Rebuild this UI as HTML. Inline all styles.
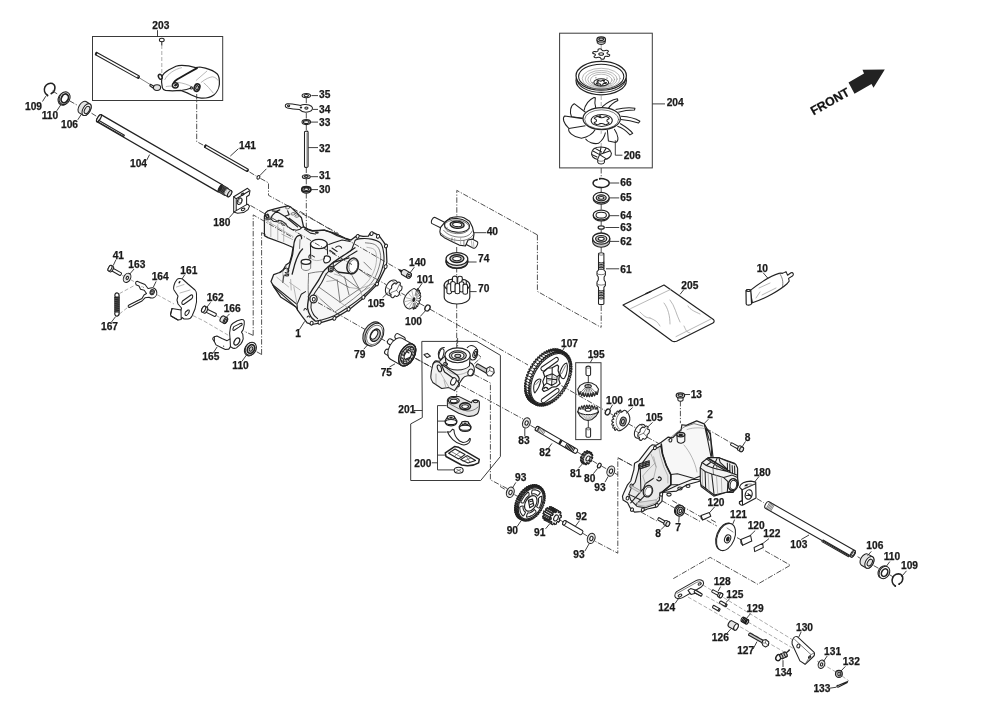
<!DOCTYPE html>
<html><head><meta charset="utf-8"><title>Transmission exploded view</title>
<style>
html,body{margin:0;padding:0;background:#fff;}
body{width:1000px;height:707px;overflow:hidden;font-family:"Liberation Sans",sans-serif;}
svg{display:block;opacity:0.999;will-change:transform;}
svg text{font-family:"Liberation Sans",sans-serif;font-weight:bold;font-size:10.2px;fill:#1a1a1a;stroke:#1a1a1a;stroke-width:0.25px;}
.s{stroke:#222;stroke-width:1.05;fill:none;stroke-linecap:round;stroke-linejoin:round;}
.sf{stroke:#222;stroke-width:1.05;fill:#fff;stroke-linejoin:round;}
.sg{stroke:#222;stroke-width:1.05;fill:#e4e4e4;stroke-linejoin:round;}
.sd{stroke:#222;stroke-width:1.05;fill:#c8c8c8;stroke-linejoin:round;}
.t{stroke:#4a4a4a;stroke-width:0.7;fill:none;stroke-linecap:round;}
.tl{stroke:#9a9a9a;stroke-width:0.7;fill:none;stroke-linecap:round;}
.ld{stroke:#2a2a2a;stroke-width:0.9;fill:none;}
.dd{stroke:#333;stroke-width:0.85;fill:none;stroke-dasharray:5.5 1.6 1.2 1.6;}
.dl{stroke:#888;stroke-width:0.7;fill:none;stroke-dasharray:4 2;}
.bx{stroke:#3a3a3a;stroke-width:1.0;fill:none;}
.k{fill:#222;stroke:none;}
</style></head>
<body>
<svg width="1000" height="707" viewBox="0 0 1000 707">
<rect x="0" y="0" width="1000" height="707" fill="#ffffff"/>
<!-- 00_labels.py -->
<text x="152.3" y="28.7">203</text>
<text x="25" y="110">109</text>
<text x="41.7" y="118.7">110</text>
<text x="61" y="127.7">106</text>
<text x="130" y="166.7">104</text>
<text x="239" y="149">141</text>
<text x="266.7" y="167.3">142</text>
<text x="213.3" y="226">180</text>
<text x="319" y="98.3">35</text>
<text x="319" y="112.7">34</text>
<text x="319" y="126">33</text>
<text x="319" y="151.7">32</text>
<text x="319" y="179.3">31</text>
<text x="319" y="193.3">30</text>
<text x="112.7" y="259.3">41</text>
<text x="128.3" y="268.3">163</text>
<text x="151.7" y="280">164</text>
<text x="180.3" y="273.7">161</text>
<text x="206.7" y="300.7">162</text>
<text x="223.7" y="312">166</text>
<text x="101" y="330">167</text>
<text x="202.3" y="359.7">165</text>
<text x="232.3" y="369">110</text>
<text x="295.3" y="337">1</text>
<text x="409" y="266.3">140</text>
<text x="416.7" y="283.3">101</text>
<text x="367.7" y="306.7">105</text>
<text x="405" y="324.7">100</text>
<text x="486.7" y="234.7">40</text>
<text x="478" y="262.3">74</text>
<text x="478" y="292">70</text>
<text x="354" y="358.3">79</text>
<text x="380.7" y="376.3">75</text>
<text x="398.3" y="413.3">201</text>
<text x="414.3" y="467">200</text>
<text x="561" y="346.7">107</text>
<text x="587.7" y="357.7">195</text>
<text x="606" y="404.3">100</text>
<text x="627.7" y="405.7">101</text>
<text x="645.7" y="420.7">105</text>
<text x="690.7" y="397.7">13</text>
<text x="707.3" y="418.3">2</text>
<text x="518.3" y="444.3">83</text>
<text x="539.3" y="456">82</text>
<text x="570" y="476.7">81</text>
<text x="584" y="482">80</text>
<text x="594.3" y="491">93</text>
<text x="515" y="481.3">93</text>
<text x="506.7" y="534.3">90</text>
<text x="534" y="535.7">91</text>
<text x="575.7" y="519.7">92</text>
<text x="573.3" y="557.7">93</text>
<text x="707.5" y="506.3">120</text>
<text x="655.3" y="537">8</text>
<text x="675.3" y="531">7</text>
<text x="666.7" y="106.3">204</text>
<text x="623.7" y="159.3">206</text>
<text x="620.3" y="186.3">66</text>
<text x="620.3" y="201.3">65</text>
<text x="620.3" y="219.3">64</text>
<text x="620.3" y="230.7">63</text>
<text x="620.3" y="244.7">62</text>
<text x="620.3" y="272.7">61</text>
<text x="681.3" y="288.7">205</text>
<text x="756.7" y="272">10</text>
<text x="744.7" y="441">8</text>
<text x="753.7" y="476">180</text>
<text x="730" y="518.3">121</text>
<text x="747.7" y="529">120</text>
<text x="763.3" y="537.3">122</text>
<text x="790.3" y="547.7">103</text>
<text x="866.3" y="549">106</text>
<text x="883.7" y="560">110</text>
<text x="901" y="569">109</text>
<text x="713.7" y="585.3">128</text>
<text x="726.3" y="597.8">125</text>
<text x="658.2" y="611">124</text>
<text x="746.6" y="612">129</text>
<text x="711.8" y="641.1">126</text>
<text x="737.2" y="654.1">127</text>
<text x="796" y="631.3">130</text>
<text x="824.1" y="655.2">131</text>
<text x="842.8" y="665.1">132</text>
<text x="775" y="675.5">134</text>
<text x="813.4" y="691.6">133</text>
<!-- 01_topleft.py -->
<rect class="bx" x="92.5" y="36.5" width="130.2" height="64" />
<line class="ld" x1="157.5" y1="30.2" x2="157.5" y2="36.5"/>
<ellipse class="sf" cx="161.8" cy="40" rx="2.4" ry="1.7" />
<line class="s" x1="161.8" y1="41.7" x2="161.8" y2="45"/>
<line class="dl" x1="161.8" y1="45" x2="161.8" y2="73"/>
<path class="sf" d="M95.54 54.78 L137.94 78.38 A0.54 1.35 29.1 0 0 139.26 76.02 L96.86 52.42 A0.54 1.35 29.1 0 0 95.54 54.78 Z" /><ellipse class="sf" cx="96.2" cy="53.6" rx="0.54" ry="1.35" transform="rotate(29.1 96.2 53.6)" />
<path class="k" d="M137.8 76 L139.8 77.2 L138.8 78.8 L137 77.8 Z" />
<line class="t" x1="139.5" y1="78" x2="151" y2="85"/>
<ellipse class="sg" cx="157" cy="87.6" rx="3.6" ry="2.9" />
<path class="sf" d="M150.5 84.2 L153.8 86.2 L153 88 L149.8 85.8 Z" />
<path class="sf" d="M 162 76.45 C 162.7 74.7 166.2 71.55 169 69.8 L 175.99 66.3 C 178.09 65.46 185.09 65.46 188.59 65.95 L 195.59 67.56 L 199.79 67 L 205.38 68.05 C 208.88 68.96 215.18 71.9 217.28 74 C 219.03 75.75 219.52 80.99 219.38 84.49 C 219.03 87.99 216.58 92.89 213.78 94.99 C 210.98 97.09 205.38 98.35 201.19 98.14 C 198.39 97.79 194.19 96.39 191.39 94.99 L 187.19 92.89 L 180.89 90.44 L 172.49 90.79 L 165.5 90.44 C 163.75 90.09 162.7 89.04 162.35 87.64 C 161.65 85.19 161.44 79.59 162 76.45 Z" style="stroke-width:1.2"/>
<path class="tl" d="M 164.8 79.59 C 167.6 74 174.59 69.1 181.59 67.7 M 196.29 80.29 L 206.78 71.2 M 201.19 82.39 C 205.38 78.89 209.58 77.14 212.38 76.79 C 215.18 77.14 217.28 78.89 217.98 80.29 M 203.99 83.09 C 206.78 85.19 210.28 89.39 213.08 92.89 M 166.2 86.59 C 168.3 86.03 170.4 86.03 171.79 86.24 M 178.09 82.39 C 182.99 83.09 187.89 84.49 191.39 86.59" />
<path class="s" d="M 196.99 68.05 L 186.49 74 L 177.39 79.24 C 175.64 80.43 174.59 81.34 173.89 82.53" style="stroke-width:1.9;stroke:#1a1a1a"/>
<path class="s" d="M 180.89 90.44 C 183.69 90.09 188.59 89.04 191.39 87.99" />
<ellipse class="sf" cx="175.29" cy="85.33" rx="2.9" ry="2.7" style="stroke-width:1.5"/>
<ellipse class="k" cx="175.59" cy="85.13" rx="1.6" ry="1.2" transform="rotate(-20 175.59 85.13)" />
<ellipse class="sf" cx="196.99" cy="87.64" rx="2.7" ry="3.8" transform="rotate(20 196.99 87.64)" style="stroke-width:1.7"/>
<ellipse class="sd" cx="197.09" cy="87.74" rx="1.3" ry="2.2" transform="rotate(20 197.09 87.74)" />
<circle class="sf" cx="191.39" cy="87.99" r="1.1" />
<ellipse class="sf" cx="160.25" cy="76.79" rx="1.7" ry="2.5" transform="rotate(-25 160.25 76.79)" style="stroke-width:1.5"/>
<path class="dd" d="M196.7 94 L196.7 141.6 L204.5 145.8"/>
<path class="s" d="M47.4 95.3 C44.6 93.6 43.6 90 45 86.8 C46.4 83.8 50 82.6 52.6 83.6 C55 84.8 55.2 88 54.4 90.4 C53.8 92 52.8 92.8 51.6 93.2" style="stroke-width:1.6"/>
<circle class="k" cx="47.5" cy="95.5" r="0.9" />
<circle class="k" cx="51.3" cy="93.6" r="0.9" />
<line class="ld" x1="42.5" y1="101.5" x2="45.8" y2="96.2"/>
<ellipse class="sg" cx="63.6" cy="98.8" rx="5.2" ry="6.6" transform="rotate(28 63.6 98.8)" />
<ellipse class="sf" cx="64.6" cy="98.2" rx="5.2" ry="6.6" transform="rotate(28 64.6 98.2)" />
<ellipse class="s" cx="64.8" cy="98.4" rx="3.4" ry="4.6" transform="rotate(28 64.8 98.4)" style="stroke-width:1.8"/>
<line class="ld" x1="56.8" y1="110.8" x2="60.8" y2="104.8"/>
<path class="sg" d="M90 103.94 L86 101.54 A3.63 6.6 -149.04 0 0 79.2 112.86 L83.2 115.26 A3.63 6.6 -149.04 0 0 90 103.94 Z" /><ellipse class="sf" cx="86.6" cy="109.6" rx="3.63" ry="6.6" transform="rotate(-149.04 86.6 109.6)" />
<ellipse class="sg" cx="87" cy="110" rx="2.3" ry="4" transform="rotate(28 87 110)" />
<line class="ld" x1="77.8" y1="119.8" x2="81.2" y2="114.5"/>
<line class="dd" x1="52.5" y1="91" x2="58.5" y2="94.6"/>
<line class="dd" x1="69.5" y1="100.8" x2="78" y2="105.6"/>
<line class="dd" x1="91.5" y1="113.2" x2="97" y2="116.6"/>
<path class="sf" style="stroke-width:1.3" d="M222.25 184.75 L101.05 114.65 A1.43 4.1 -149.96 0 0 96.95 121.75 L218.15 191.85 A1.43 4.1 -149.96 0 0 222.25 184.75 Z" /><ellipse class="sf" style="stroke-width:1.3" cx="99" cy="118.2" rx="1.43" ry="4.1" transform="rotate(-149.96 99 118.2)" />
<path class="s" d="M97.4 121.4 L123.6 136.4"/>
<path class="s" d="M98.6 120.2 L124.4 135.2 L123.6 136.4"/>
<path class="sd" style="fill:#262626" d="M218.47 191.79 L224.07 194.99 A1.56 3.9 29.74 0 0 227.93 188.21 L222.33 185.01 A1.56 3.9 29.74 0 0 218.47 191.79 Z" />
<path class="sg" d="M224.24 194.62 L227.84 196.72 A1.57 3.5 30.26 0 0 231.36 190.68 L227.76 188.58 A1.57 3.5 30.26 0 0 224.24 194.62 Z" /><ellipse class="sg" cx="229.6" cy="193.7" rx="1.57" ry="3.5" transform="rotate(30.26 229.6 193.7)" />
<path class="s" d="M222.9 185.51 A1.4 3.8 30 0 1 219.1 192.09" style="stroke-width:0.4;stroke:#888"/>
<path class="s" d="M224.2 186.26 A1.4 3.8 30 0 1 220.4 192.84" style="stroke-width:0.4;stroke:#888"/>
<path class="s" d="M225.5 187.01 A1.4 3.8 30 0 1 221.7 193.59" style="stroke-width:0.4;stroke:#888"/>
<path class="s" d="M226.8 187.76 A1.4 3.8 30 0 1 223 194.34" style="stroke-width:0.4;stroke:#888"/>
<line class="ld" x1="146.6" y1="160.4" x2="149.6" y2="154.6"/>
<path class="sf" d="M204.56 147.33 L246.96 171.53 A0.52 1.3 29.72 0 0 248.24 169.27 L205.84 145.07 A0.52 1.3 29.72 0 0 204.56 147.33 Z" /><ellipse class="sf" cx="205.2" cy="146.2" rx="0.52" ry="1.3" transform="rotate(29.72 205.2 146.2)" />
<path class="k" d="M247 169.2 L248.8 170.4 L247.8 172 L246.2 171 Z" />
<line class="ld" x1="238.4" y1="148.7" x2="230.3" y2="156.1"/>
<ellipse class="sf" cx="258.4" cy="177.4" rx="1.3" ry="1.9" transform="rotate(30 258.4 177.4)" />
<line class="ld" x1="266.4" y1="168.8" x2="259.6" y2="175.8"/>
<path class="dd" d="M249.5 172 L256.5 176.2"/>
<path class="dd" d="M260.4 178.4 L268.5 182.8 L268.5 195.3 L338.5 233.5"/>
<path class="sf" d="M233.7 196.7 L247.5 188.3 L250 190.6 L249.2 195 L246.6 196.8 L246.6 204.6 L248 204.3 L249.5 206.1 L248 209.6 L243.6 212.6 L237.6 213.2 L233.7 212.1 Z" />
<path class="s" d="M233.7 196.7 L236.2 198.8 L249.2 191 M236.2 198.8 L236.2 210.6 L246.6 204.6 M236.2 210.6 L233.7 212.1" />
<ellipse class="s" cx="239.6" cy="201.2" rx="2.2" ry="3.4" transform="rotate(20 239.6 201.2)" />
<ellipse class="t" cx="240.3" cy="200.6" rx="1.6" ry="2.6" transform="rotate(20 240.3 200.6)" />
<ellipse class="s" cx="242.6" cy="194.3" rx="1.5" ry="0.9" transform="rotate(-30 242.6 194.3)" />
<ellipse class="s" cx="243.1" cy="209.4" rx="1.9" ry="1.1" transform="rotate(-20 243.1 209.4)" />
<line class="ld" x1="229.3" y1="217.6" x2="234.6" y2="211.6"/>
<line class="dd" x1="306.3" y1="97.7" x2="306.3" y2="104"/>
<line class="dd" x1="306.3" y1="113" x2="306.3" y2="119.6"/>
<line class="dd" x1="306.3" y1="124.6" x2="306.3" y2="131"/>
<line class="dd" x1="306.3" y1="167.5" x2="306.3" y2="174.6"/>
<line class="dd" x1="306.3" y1="178.8" x2="306.3" y2="186.4"/>
<line class="dd" x1="306.3" y1="193" x2="306.3" y2="262"/>
<ellipse class="sf" cx="306.3" cy="95.6" rx="4.2" ry="2.2" /><ellipse class="sf" cx="306.3" cy="95.6" rx="2.2" ry="1.1" />
<line class="ld" x1="311.4" y1="95.6" x2="318" y2="95.6"/>
<path class="sf" d="M287 103.8 C289.5 103.2 296 104.6 300.4 105.4 C303 104.2 308.6 104.2 311.4 106.2 C313.4 108 312.6 110.6 309.6 111.6 C306 112.6 301.6 111.8 299.6 109.6 C296 109.4 290 108.6 287.4 108 C284.6 107.2 284.6 104.6 287 103.8 Z" />
<ellipse class="s" cx="288.6" cy="105.8" rx="1.1" ry="0.8" />
<ellipse class="s" cx="306.4" cy="108" rx="1.6" ry="1.1" />
<ellipse class="s" cx="301" cy="107.4" rx="0.7" ry="0.5" />
<line class="ld" x1="312.8" y1="109.4" x2="318" y2="109.4"/>
<ellipse class="sf" cx="306.3" cy="122.1" rx="4.3" ry="2.5" /><ellipse class="sf" cx="306.3" cy="122.1" rx="2.9" ry="1.5" />
<line class="ld" x1="311" y1="122.1" x2="318" y2="122.1"/>
<path class="sf" d="M304.5 132 L304.5 166.6 A1.8 0.9 0 0 0 308.1 166.6 L308.1 132 A1.8 0.9 0 0 0 304.5 132 Z" />
<line class="t" x1="307" y1="133" x2="307" y2="166.8"/>
<line class="ld" x1="308.2" y1="147.6" x2="318" y2="147.6"/>
<ellipse class="sd" cx="306.3" cy="176.7" rx="4" ry="2" />
<ellipse class="sf" cx="306.3" cy="176.5" rx="1.8" ry="0.9" />
<line class="ld" x1="310.5" y1="176.7" x2="318" y2="176.7"/>
<ellipse class="sd" cx="306.3" cy="190.2" rx="4.6" ry="3" />
<ellipse class="s" cx="306.3" cy="189.2" rx="4.6" ry="2.6" style="stroke-width:1.6"/>
<ellipse class="sf" cx="306.3" cy="189.2" rx="2.4" ry="1.2" />
<line class="ld" x1="311" y1="189.6" x2="318" y2="189.6"/>
<!-- 02_leftmid.py -->
<path class="sf" d="M110.66 270.31 L119.86 275.51 A0.6 1.5 29.48 0 0 121.34 272.89 L112.14 267.69 A0.6 1.5 29.48 0 0 110.66 270.31 Z" />
<path class="sg" d="M108.48 270.9 L110.08 271.8 A1.55 3.1 29.36 0 0 113.12 266.4 L111.52 265.5 A1.55 3.1 29.36 0 0 108.48 270.9 Z" /><ellipse class="sf" cx="110" cy="268.2" rx="1.55" ry="3.1" transform="rotate(29.36 110 268.2)" />
<line class="ld" x1="116" y1="259.6" x2="113.2" y2="265.6"/>
<ellipse class="sg" cx="127.1" cy="277.8" rx="3.4" ry="4.9" transform="rotate(28 127.1 277.8)" />
<ellipse class="sf" cx="127.3" cy="277.9" rx="1.1" ry="1.6" transform="rotate(28 127.3 277.9)" />
<line class="ld" x1="134.1" y1="269" x2="129.6" y2="274.2"/>
<path class="sf" d="M 148 288.5 L 145 284.5 L 140 282.5 L 137.2 281.3 C 135.5 281.5 135 283.2 136.5 285 L 139 286 L 140.5 289.2 L 144.2 290.2 L 146.5 293.5 L 144 295 L 142 298.5 L 135 302 L 129 305 C 127.5 305.8 128.2 307.8 129.8 307.4 L 136 304 L 142 301 L 145 297.8 L 149 297.2 C 150 297.8 152 298.2 153.5 297.8 C 156 296.8 157.5 294 156.5 291 C 155.5 288.5 153 287.2 150.5 288 C 149.5 288.3 148.6 288.4 148 288.5 Z" />
<ellipse class="s" cx="152.2" cy="292.2" rx="2.1" ry="2.6" transform="rotate(20 152.2 292.2)" />
<ellipse class="sd" cx="152" cy="292.4" rx="1.2" ry="1.6" transform="rotate(20 152 292.4)" />
<circle class="k" cx="142" cy="286.8" r="0.45" />
<circle class="k" cx="143.5" cy="287.2" r="0.45" />
<circle class="k" cx="137.2" cy="300.5" r="0.45" />
<circle class="k" cx="139.5" cy="299.5" r="0.45" />
<circle class="k" cx="130" cy="306.2" r="0.45" />
<line class="ld" x1="156.1" y1="281.4" x2="153.4" y2="287"/>
<path class="s" d="M115.2 297 C114 294 116 292.6 117.6 293 C119 293.6 119.4 295 119 297" style="stroke-width:1.2"/>
<path class="s" d="M115 312 C114 315 116 316.6 117.6 316 C119 315.4 119.6 314 119 312" style="stroke-width:1.2"/>
<rect class="k" x="114.2" y="296.4" width="5.6" height="16" rx="1.2"/>
<line class="s" style="stroke:#777;stroke-width:0.5" x1="114.6" y1="298.8" x2="119.4" y2="298"/>
<line class="s" style="stroke:#777;stroke-width:0.5" x1="114.6" y1="300.7" x2="119.4" y2="299.9"/>
<line class="s" style="stroke:#777;stroke-width:0.5" x1="114.6" y1="302.6" x2="119.4" y2="301.8"/>
<line class="s" style="stroke:#777;stroke-width:0.5" x1="114.6" y1="304.5" x2="119.4" y2="303.7"/>
<line class="s" style="stroke:#777;stroke-width:0.5" x1="114.6" y1="306.4" x2="119.4" y2="305.6"/>
<line class="s" style="stroke:#777;stroke-width:0.5" x1="114.6" y1="308.3" x2="119.4" y2="307.5"/>
<line class="s" style="stroke:#777;stroke-width:0.5" x1="114.6" y1="310.2" x2="119.4" y2="309.4"/>
<line class="s" style="stroke:#777;stroke-width:0.5" x1="114.6" y1="312.1" x2="119.4" y2="311.3"/>
<line class="ld" x1="111.2" y1="322.4" x2="115.6" y2="316.6"/>
<line class="dl" x1="119.4" y1="293.6" x2="136" y2="284.6"/>
<line class="dl" x1="119.4" y1="314" x2="129" y2="306.4"/>
<line class="dl" x1="122" y1="275.4" x2="124" y2="276.4"/>
<line class="dl" x1="130.4" y1="279.6" x2="136" y2="282.6"/>
<line class="dl" x1="157" y1="294.6" x2="174" y2="304"/>
<line class="dl" x1="193" y1="315.6" x2="204" y2="321"/>
<line class="dl" x1="204" y1="321" x2="232" y2="337.4"/>
<line class="dl" x1="216" y1="315.4" x2="220.6" y2="318"/>
<path class="sf" d="M 177 279.5 C 178 278.2 181.5 278 183 279.5 L 188 284 L 195 290 C 196 291 196.5 292.5 196.5 294 L 196.5 302 L 195 309 L 192 316 C 191 318 189.5 319 188 319 L 184 319 L 182 317.5 L 181 319.5 L 178 320 L 171 316 L 170.5 314.5 L 172 308.5 L 181 310 L 181.5 308 L 178 304 L 177 300 L 178 296 L 174 290 C 173.2 288.5 173.4 286.5 175 282.5 Z" />
<path class="s" d="M 182.5 301 L 191 295 C 192.5 294.5 193.5 296 192 298.5 L 183.5 304.5 C 182 305 181.2 302.5 182.5 301 Z M 185.5 312 L 188 310 C 189.2 309.6 190 310.5 188.5 313.5 L 186.5 315.5 C 185 316 184.5 313.5 185.5 312 Z" />
<path class="s" d="M 172 308.5 L 170.5 314.5 M 181 310 L 181.2 318.5 M 171 316 L 178 320" />
<path class="tl" d="M 176.5 287 L 184 284.5 M 180 293 L 190 290" />
<ellipse class="k" cx="179.5" cy="282.2" rx="0.8" ry="1.4" transform="rotate(30 179.5 282.2)" />
<line class="ld" x1="184.7" y1="274.8" x2="182" y2="279"/>
<path class="sf" d="M204.9 311.64 L214.7 316.44 A0.64 1.6 26.1 0 0 216.1 313.56 L206.3 308.76 A0.64 1.6 26.1 0 0 204.9 311.64 Z" />
<path class="sg" d="M202.12 312.15 L204.12 313.15 A1.65 3.3 26.57 0 0 207.08 307.25 L205.08 306.25 A1.65 3.3 26.57 0 0 202.12 312.15 Z" /><ellipse class="sf" cx="203.6" cy="309.2" rx="1.65" ry="3.3" transform="rotate(26.57 203.6 309.2)" />
<line class="ld" x1="210.5" y1="302.4" x2="206.8" y2="307.4"/>
<path class="sg" d="M226.97 317.81 L223.77 316.01 A1.76 3.2 -150.64 0 0 220.63 321.59 L223.83 323.39 A1.76 3.2 -150.64 0 0 226.97 317.81 Z" /><ellipse class="sf" cx="225.4" cy="320.6" rx="1.76" ry="3.2" transform="rotate(-150.64 225.4 320.6)" />
<ellipse class="sd" cx="225.6" cy="320.7" rx="1" ry="1.8" transform="rotate(28 225.6 320.7)" />
<line class="ld" x1="229.5" y1="313.9" x2="226.4" y2="317.2"/>
<path class="sf" d="M 230.47 327.07 C 230.89 324.95 232.16 323.85 233.01 323.25 L 237.26 320.7 L 241.5 319.43 C 243.2 319.26 244.05 319.86 244.22 321.13 L 244.22 324.52 L 243.2 329.62 L 241.5 332.16 L 242.78 334.29 L 243.2 338.96 C 242.78 341.08 241.67 342.78 240.65 344.05 L 236.41 347.87 C 235.14 348.46 233.86 348.46 233.01 348.29 L 230.47 346.6 L 228.77 349.14 L 225.37 349.57 L 221.13 347.44 L 216.04 344.9 L 214.34 341.5 L 212.64 338.96 C 212.81 337.68 213.49 337.09 214.34 336.83 L 216.88 335.98 L 221.98 338.53 L 227.07 340.65 L 230.04 338.96 L 229.62 333.01 Z" />
<path class="s" d="M 233.01 328.77 L 233.86 326.65 L 238.96 324.1 L 241.5 323.25 C 242.35 323.51 242.35 324.35 241.93 324.95 L 238.96 327.07 L 233.86 330.47 C 233.01 330.47 232.67 329.62 233.01 328.77 Z" />
<ellipse class="s" cx="236.83" cy="341.5" rx="2.4" ry="3.9" transform="rotate(30 236.83 341.5)" style="stroke-width:1.3"/>
<path class="s" d="M 230.04 338.96 L 230.47 346.6 M 214.34 336.83 L 214.34 341.5" />
<circle class="k" cx="223.68" cy="346.17" r="0.55" />
<line class="ld" x1="213.3" y1="352.8" x2="217.2" y2="346.8"/>
<ellipse class="sg" cx="250" cy="349.4" rx="5.2" ry="6.8" transform="rotate(28 250 349.4)" />
<ellipse class="sf" cx="250.8" cy="348.8" rx="5.2" ry="6.8" transform="rotate(28 250.8 348.8)" />
<ellipse class="s" cx="251" cy="349" rx="3.4" ry="4.6" transform="rotate(28 251 349)" style="stroke-width:1.8"/>
<ellipse class="sd" cx="251" cy="349" rx="1.6" ry="2.4" transform="rotate(28 251 349)" />
<line class="ld" x1="241.9" y1="361.4" x2="246.8" y2="354.6"/>
<path class="dd" d="M253.2 335.4 L244 331.2"/>
<path class="dd" d="M261.6 354.5 L256.4 351.6"/>
<!-- 10_housing1.py -->
<path class="sg" style="fill:#f6f6f6;stroke-width:1.25" d="M264.4 216.3 L265.5 213 L267.9 210.8 L274.8 208.9 L281 207.3 L287.7 205.9 L290.6 206.9 L296 212 L301.5 217.8 L302.5 222 L303.5 226.7 L308 229 L312.4 230.6 L324.3 230.1 L334.2 233.1 L345 238 L351 240 L355 236.9 L358 235.4 L363 236.4 L368.4 236.1 L370 233.4 L372.8 232.4 L378.8 235.4 L383.2 241.3 L386.2 245.8 L386.9 262.1 L385.4 268.1 L377.3 284.4 L363.9 297.8 L349 309.7 L334.2 318.6 L319.3 323.1 L311.9 324.5 L307.1 322.9 L302.3 316.6 L297.6 310.2 L296 307 L280.6 296.9 L274.2 287.4 L271 281.5 L273.7 274.6 L279.5 272.5 L282.7 270.9 L285.9 265.1 L289.6 262.4 L291.6 256 L292.6 250 L293.1 247.5 L283.7 243.5 L267.9 237.6 L264.4 235.6 Z"/>
<path class="s" d="M 264.41 218.76 L 267.87 219.26 L 270.84 218.76 L 273.32 221.24 L 276.29 221.73 L 278.76 220.25 L 281.73 220.94 L 285.69 223.71 L 287.67 226.68 L 291.63 229.16 L 296.58 230.15 L 300.05 229.16 L 301.53 227.67 L 303.51 226.68" />
<path class="s" d="M 276.29 211.34 L 284.7 216.29 L 297.57 226.88 M 289.16 218.27 L 301.53 227.67 M 284.7 216.29 L 289.16 214.8 L 287.67 210.84 M 272.33 210.84 L 276.29 211.34 L 279.75 209.85 M 270.84 218.76 L 272.33 215.3 L 276.29 211.34" style="stroke-width:1.2"/>
<path class="s" d="M 265.89 214.8 C 265.4 216.29 266.39 217.77 267.87 217.97 C 268.86 217.28 268.86 215.3 267.67 214.31" style="stroke-width:1.6"/>
<ellipse class="t" cx="287.67" cy="207.67" rx="2.2" ry="1.2" transform="rotate(-10 287.67 207.67)" />
<ellipse class="t" cx="293.12" cy="213.81" rx="2.2" ry="1.2" transform="rotate(-10 293.12 213.81)" />
<ellipse class="t" cx="297.08" cy="215.99" rx="2.2" ry="1.2" transform="rotate(-10 297.08 215.99)" />
<ellipse class="t" cx="268.37" cy="218.76" rx="2.2" ry="1.2" transform="rotate(-10 268.37 218.76)" />
<ellipse class="t" cx="279.75" cy="221.93" rx="2.2" ry="1.2" transform="rotate(-10 279.75 221.93)" />
<ellipse class="t" cx="283.71" cy="224.21" rx="2.2" ry="1.2" transform="rotate(-10 283.71 224.21)" />
<path class="tl" d="M 277.77 224.7 L 277.77 239.55 M 283.71 227.67 L 283.71 241.53 M 281.73 234.11 L 292.62 239.55 M 270.84 220.74 L 270.84 236.58" />
<path class="tl" d="M 264.9 219.75 L 293.12 236.58" />
<path class="s" d="M 303.51 226.68 L 306.49 229.16 L 312.43 231.14 L 318.37 230.64 L 324.31 230.15 L 330.25 232.13 L 337.18 235.59 L 345 238.56 L 350.05 240.05" style="stroke-width:1.2"/>
<path class="s" d="M 304.5 229.16 L 310.45 233.12 L 315.4 234.11 M 328.76 244.5 L 334.21 242.52 L 342.13 240.05 L 350.05 241.53" />
<ellipse class="k" cx="316.88" cy="232.62" rx="1.9" ry="1.2" />
<path class="s" d="M 310.45 244.5 L 310.74 258.37 M 327.28 244.5 L 327.57 254.41" />
<path class="tl" d="M 310.74 258.37 C 314.41 262.33 324.31 261.34 327.57 254.41" />
<ellipse class="sf" cx="318.86" cy="244.01" rx="8.4" ry="4.6" style="stroke-width:1.4"/>
<path class="s" d="M 297.57 236.09 C 299.55 234.6 302.03 235.59 301.53 238.56 M 298.56 235.59 C 295.59 236.58 294.11 240.54 293.61 246.49 L 292.62 254.41 L 289.65 264.8 L 287.67 272.23 M 302.52 248.96 C 298.56 252.43 296.58 258.37 294.6 264.8 L 292.13 274.21" style="stroke-width:1.3"/>
<path class="t" d="M 300.05 239.55 L 299.55 248.47" />
<ellipse class="sf" cx="305.99" cy="261.83" rx="4.8" ry="2.5" style="stroke-width:1.4"/>
<path class="t" d="M 301.24 262.33 L 301.53 268.27 C 303.51 271.24 308.47 271.24 310.64 268.27 L 310.74 263.32" />
<path class="s" d="M 310.45 254.41 C 308.96 255.4 308.47 256.88 309.26 258.37 M 311.93 255.4 L 314.41 256.88" />
<path class="sf" d="M 324.41 257.87 C 323.42 255.69 328.37 254.7 330.35 257.67 C 331.34 260.64 328.37 263.61 324.6 262.62 C 323.42 261.63 323.61 259.16 324.41 257.87 Z" style="stroke-width:1.3"/>
<path class="t" d="M 308.56 273.51 C 308.56 280.45 307.57 288.37 308.56 296.29 M 308.56 273.51 C 312.52 272.52 318.47 271.53 323.42 271.53" />
<path class="s" d="M355 247.77 C353.53 248.76 349.64 251.4 346.19 253.71 C342.74 256.02 337.28 259.49 334.31 261.63 C331.34 263.78 330.18 264.93 328.37 266.58 C326.55 268.23 325.07 269.22 323.42 271.53 C321.77 273.84 320.28 277.48 318.47 280.45 C316.65 283.42 314.17 286.72 312.52 289.36 C310.87 292 309.2 294.93 308.56 296.29 C307.93 297.64 308.86 295.53 308.7 297.5 C308.54 299.47 307.25 304.92 307.6 308.1 C307.95 311.28 309.55 314.48 310.8 316.6 C312.05 318.72 314.38 320.1 315.1 320.8" style="stroke-width:1.35"/>
<path class="s" d="M357.08 250.94 C355.59 251.86 351.55 254.29 348.17 256.49 C344.79 258.68 339.62 262.01 336.78 264.11 C333.94 266.2 332.9 267.41 331.14 269.06 C329.37 270.71 327.81 271.7 326.19 274.01 C324.57 276.32 323.22 279.95 321.44 282.92 C319.65 285.89 317.15 289.19 315.5 291.83 C313.84 294.47 312.12 297.73 311.53 298.76 C310.95 299.79 312.09 296.46 312 298 C311.91 299.54 310.73 305.23 311 308 C311.27 310.77 312.5 312.83 313.6 314.6 C314.7 316.37 316.93 317.93 317.6 318.6" />
<ellipse class="sf" cx="330.84" cy="269.06" rx="2.5" ry="2.8" style="stroke-width:1.2"/>
<ellipse class="s" cx="331.04" cy="269.26" rx="1.1" ry="1.4" />
<path class="s" d="M 282.82 282.43 L 283.81 275.5 L 288.76 274.01 M 284.8 268.56 C 286.29 267.57 288.27 268.56 288.76 270.54 C 288.76 272.52 286.78 273.51 285.3 272.52 M 279.85 272.52 L 284.8 268.56" style="stroke-width:1.2"/>
<ellipse class="s" cx="286.98" cy="275" rx="1.7" ry="1" />
<path class="s" d="M355.27 240.16 C356.22 239.91 358.25 238.84 360.92 238.67 C363.6 238.5 368.1 238.42 371.32 239.12 C374.54 239.81 378.26 240.97 380.24 242.83 C382.22 244.69 382.66 246.79 383.21 250.26 C383.75 253.73 384.74 258.18 383.51 263.63 C382.27 269.08 379.3 277.5 375.78 282.95 C372.26 288.4 367.11 292.24 362.41 296.32 C357.7 300.41 352.25 304.25 347.55 307.47 C342.84 310.69 338.63 313.53 334.18 315.64 C329.72 317.74 323.9 319.16 320.8 320.1 C317.71 321.04 316.47 321.09 315.6 321.29" style="stroke-width:1.1"/>
<path class="t" d="M365.38 242.83 C366.86 243.08 371.94 243.08 374.29 244.32 C376.65 245.55 378.5 247.29 379.49 250.26 C380.49 253.23 381.23 257.19 380.24 262.15 C379.25 267.1 376.77 274.9 373.55 279.98 C370.33 285.05 365.38 288.65 360.92 292.61 C356.46 296.57 351.14 300.53 346.81 303.75 C342.47 306.97 336.9 310.56 334.92 311.92" />
<path class="tl" d="M366.86 247.29 C368.1 247.66 372.68 247.91 374.29 249.52 C375.9 251.13 376.4 253.85 376.52 256.95 C376.65 260.04 376.28 264.25 375.04 268.09 C373.8 271.93 371.82 276.26 369.09 279.98 C366.37 283.69 360.43 288.65 358.69 290.38" />
<path class="s" d="M 355.27 240.16 L 352.01 248.77 L 350.52 251" />
<ellipse class="sf" cx="311.6" cy="323.2" rx="1.5" ry="1.9" transform="rotate(20 311.6 323.2)" />
<ellipse class="sf" cx="319.6" cy="322.4" rx="1.5" ry="1.9" transform="rotate(20 319.6 322.4)" />
<ellipse class="sf" cx="334.4" cy="318.4" rx="1.5" ry="1.9" transform="rotate(20 334.4 318.4)" />
<ellipse class="sf" cx="348.6" cy="309.2" rx="1.5" ry="1.9" transform="rotate(20 348.6 309.2)" />
<ellipse class="sf" cx="363.4" cy="297.4" rx="1.5" ry="1.9" transform="rotate(20 363.4 297.4)" />
<ellipse class="sf" cx="377" cy="284" rx="1.5" ry="1.9" transform="rotate(20 377 284)" />
<ellipse class="sf" cx="385.6" cy="266.6" rx="1.5" ry="1.9" transform="rotate(20 385.6 266.6)" />
<ellipse class="sf" cx="386" cy="246" rx="1.5" ry="1.9" transform="rotate(20 386 246)" />
<ellipse class="sf" cx="378" cy="236.4" rx="1.5" ry="1.9" transform="rotate(20 378 236.4)" />
<ellipse class="sf" cx="371.6" cy="233.6" rx="1.5" ry="1.9" transform="rotate(20 371.6 233.6)" />
<ellipse class="sf" cx="357.6" cy="236.4" rx="1.5" ry="1.9" transform="rotate(20 357.6 236.4)" />
<path class="s" d="M 333.43 262.44 L 349.03 257.99 M 338.93 272.25 L 352.01 273.74" style="stroke-width:1.3"/>
<path class="s" d="M 333.43 262.44 C 331.95 265.86 334.92 270.32 338.93 272.25" />
<ellipse class="sf" cx="352.7" cy="265.9" rx="5.6" ry="8" transform="rotate(14 352.7 265.9)" style="stroke-width:1.5"/>
<ellipse class="t" cx="353.4" cy="266.1" rx="4.4" ry="6.6" transform="rotate(14 353.4 266.1)" />
<path class="s" d="M 329.72 250.26 L 334.92 253.97 M 331.95 248.03 L 337.15 251.45 M 335.66 247.29 C 337.89 245.06 340.86 245.8 341.6 248.03" />
<path class="t" d="M 325.26 274.03 L 349.03 287.41 M 331.2 268.09 L 359.44 288.89 M 319.32 287.41 L 340.12 302.27 M 340.12 302.27 L 359.44 288.89 M 337.15 279.98 L 340.12 302.27 M 352.01 275.52 L 360.92 291.86 M 344.58 277.01 L 349.03 294.84 M 320.8 299.29 L 334.18 311.18 M 359.44 269.58 L 369.84 277.01 M 363.89 262.15 L 371.32 269.58" />
<path class="tl" d="M 349.03 287.41 L 359.44 288.89 L 362.41 296.32 M 340.12 302.27 L 347.55 307.47 M 334.18 274.03 L 344.58 277.01 M 326.75 281.46 L 337.15 279.98 M 316.34 294.84 L 320.8 299.29 M 359.44 288.89 L 375.78 282.95 M 360.92 291.86 L 369.84 287.41" />
<path class="s" d="M 272.62 284.72 L 297.03 304.36 L 301.28 294.28 L 305.52 291.62 M 297.03 304.36 L 297.56 310.2" />
<path class="s" d="M 274.21 287.38 L 295.97 307.02" />
<path class="tl" d="M 282.7 270.92 L 283.23 281.54 M 285.89 265.08 L 287.48 274.11 L 283.23 275.17 M 289.6 282.6 L 300.22 290.03 M 290.66 279.42 L 291.19 290.03 M 276.86 277.29 L 288.54 286.85 M 293.85 286.85 L 297.03 304.36" />
<ellipse class="sf" cx="313.49" cy="299.06" rx="3.6" ry="3.9" style="stroke-width:1.3"/>
<ellipse class="s" cx="313.79" cy="299.36" rx="1.5" ry="1.8" />
<path class="s" d="M 303.93 310.2 C 304.46 308.08 306.06 308.08 306.59 309.67 M 307.12 317.1 C 307.65 315.51 309.24 315.51 309.56 317.1" />
<line class="ld" x1="299.4" y1="329.6" x2="304.6" y2="321.4"/>
<!-- 11_mid.py -->
<line class="dd" x1="250.5" y1="205.5" x2="263.5" y2="213"/>
<line class="dd" x1="345.6" y1="238.8" x2="397" y2="268.6"/>
<line class="dd" x1="358" y1="268.6" x2="386.5" y2="284.8"/>
<line class="dd" x1="401.4" y1="293.2" x2="405" y2="295.2"/>
<line class="dd" x1="419.6" y1="303.4" x2="425" y2="306.4"/>
<line class="dd" x1="430" y1="309.2" x2="528" y2="365"/>
<line class="dd" x1="318" y1="302.6" x2="365" y2="329.4"/>
<line class="dd" x1="380.4" y1="338.2" x2="388.4" y2="342.8"/>
<line class="dd" x1="416" y1="358.4" x2="437" y2="370.4"/>
<path class="k" d="M397.4 268.6 L402.6 270.2 L404.4 273.6 L400.6 272.6 Z" />
<path class="sg" d="M410.44 272.88 L405.04 269.78 A2.17 2.9 -150.14 0 0 402.16 274.82 L407.56 277.92 A2.17 2.9 -150.14 0 0 410.44 272.88 Z" /><ellipse class="sf" cx="409" cy="275.4" rx="2.17" ry="2.9" transform="rotate(-150.14 409 275.4)" />
<ellipse class="s" cx="409.1" cy="275.5" rx="1.1" ry="1.3" transform="rotate(29.6 409.1 275.5)" />
<line class="ld" x1="414.3" y1="267.2" x2="409.8" y2="273.2"/>
<path class="sf" d="M395.52 291.46 C395.11 292.03 394.63 292.57 394.14 293.03 C393.66 293.49 393.12 293.9 392.59 294.23 C392.07 294.55 391.51 294.81 390.98 294.97 C390.44 295.13 389.9 295.22 389.4 295.21 C388.9 295.21 388.41 295.11 387.97 294.94 C387.54 294.76 387.13 294.49 386.8 294.16 C386.46 293.82 386.16 293.4 385.94 292.93 C385.73 292.47 385.56 291.92 385.48 291.35 C385.39 290.78 385.38 290.14 385.43 289.5 C385.48 288.87 385.61 288.19 385.8 287.53 C385.99 286.88 386.26 286.2 386.57 285.56 C386.88 284.93 387.26 284.3 387.68 283.74 C388.09 283.17 388.57 282.63 389.06 282.17 C389.54 281.71 390.08 281.3 390.61 280.97 C391.13 280.65 391.69 280.39 392.22 280.23 C392.76 280.07 393.3 279.98 393.8 279.99 C394.3 279.99 394.79 280.09 395.23 280.26 C395.66 280.44 396.07 280.71 396.4 281.04 C396.74 281.38 397.04 281.8 397.26 282.27 C397.47 282.73 397.64 283.28 397.72 283.85 C397.81 284.42 397.82 285.06 397.77 285.7 C397.72 286.33 397.59 287.01 397.4 287.67 C397.21 288.32 396.94 289 396.63 289.64 C396.32 290.27 395.94 290.9 395.52 291.46 Z" />
<path class="sf" d="M399.52 293.76 C399.29 294.43 398.73 295.09 398.25 295.55 C397.76 296.01 397.12 296.48 396.59 296.53 C396.07 296.57 395.63 295.63 395.1 295.8 C394.57 295.96 393.94 297.22 393.4 297.51 C392.85 297.8 392.26 297.7 391.83 297.53 C391.4 297.35 390.92 297.02 390.8 296.46 C390.67 295.9 391.3 294.64 391.08 294.17 C390.86 293.7 389.79 294.03 389.48 293.65 C389.16 293.27 389.13 292.52 389.18 291.88 C389.24 291.24 389.4 290.43 389.8 289.83 C390.2 289.23 391.26 288.9 391.58 288.27 C391.89 287.64 391.45 286.71 391.68 286.04 C391.91 285.37 392.47 284.71 392.95 284.25 C393.44 283.79 394.08 283.32 394.61 283.27 C395.13 283.23 395.57 284.17 396.1 284 C396.63 283.84 397.26 282.58 397.8 282.29 C398.35 282 398.94 282.1 399.37 282.27 C399.8 282.45 400.28 282.78 400.4 283.34 C400.53 283.9 399.9 285.16 400.12 285.63 C400.34 286.1 401.41 285.77 401.72 286.15 C402.04 286.53 402.07 287.28 402.02 287.92 C401.96 288.56 401.8 289.37 401.4 289.97 C401 290.57 399.94 290.9 399.62 291.53 C399.31 292.16 399.75 293.09 399.52 293.76 Z" />
<path class="t" d="M392 281 L396 283 M386.6 287.6 L390.4 289.8 M389 295.4 L392.6 297.6 M396.6 290.4 L399.6 284 M396.6 290.4 L400.6 295.4 M396.6 290.4 L391 292.6" />
<line class="ld" x1="382.6" y1="297.7" x2="387.8" y2="292.8"/>
<path class="sf" d="M413.96 288.47 C413 288.61 410.56 290.42 409.43 291.41 C408.3 292.41 406.22 294.58 405.47 295.94 C404.71 297.3 403.77 300.17 403.77 301.6 C403.77 303.03 404.71 305.7 405.47 306.69 C406.22 307.69 408.42 308.99 409.43 309.07 C410.44 309.15 412.52 307.26 413.03 307.27 C413.54 307.27 413.1 308.88 413.24 309.11 C413.37 309.34 413.86 309.26 414.04 308.98 C414.23 308.7 414.53 307.28 414.62 307.01 C414.7 306.75 414.6 306.79 414.69 306.98 C414.77 307.17 415.08 308.32 415.27 308.44 C415.45 308.55 415.94 308.2 416.08 307.85 C416.21 307.5 416.24 306.1 416.27 305.82 C416.31 305.54 416.21 305.64 416.34 305.76 C416.46 305.87 417.02 306.66 417.23 306.65 C417.44 306.64 417.87 306.04 417.94 305.66 C418.01 305.29 417.76 304.07 417.74 303.81 C417.72 303.56 417.64 303.7 417.79 303.72 C417.94 303.74 418.67 304.09 418.89 303.95 C419.11 303.81 419.43 303.05 419.43 302.68 C419.42 302.32 418.92 301.44 418.85 301.23 C418.77 301.02 418.72 301.19 418.88 301.11 C419.04 301.04 419.86 300.9 420.06 300.65 C420.26 300.41 420.44 299.56 420.36 299.25 C420.28 298.95 419.58 298.49 419.47 298.35 C419.35 298.22 419.33 298.4 419.48 298.24 C419.63 298.08 420.45 297.47 420.6 297.14 C420.76 296.81 420.77 295.98 420.63 295.77 C420.49 295.55 419.68 295.58 419.53 295.53 C419.38 295.48 419.4 295.65 419.52 295.42 C419.65 295.19 420.37 294.19 420.46 293.82 C420.55 293.44 420.4 292.72 420.21 292.63 C420.02 292.53 419.19 293.03 419.03 293.08 C418.87 293.13 418.92 293.26 419 292.99 C419.08 292.72 419.62 291.43 419.64 291.06 C419.66 290.69 419.36 290.16 419.15 290.19 C418.93 290.22 418.18 291.15 418.02 291.28 C417.87 291.42 417.94 291.51 417.97 291.23 C418 290.95 418.3 289.53 418.25 289.2 C418.19 288.87 417.78 288.6 417.56 288.75 C417.35 288.91 417.11 290.39 416.62 290.35 C416.14 290.32 414.92 288.33 413.96 288.47 Z" />
<line class="t" x1="416.74" y1="289.71" x2="415.15" y2="295.16"/>
<line class="t" x1="418.23" y1="290.69" x2="415.82" y2="295.6"/>
<line class="t" x1="419.31" y1="292.6" x2="416.3" y2="296.46"/>
<line class="t" x1="419.85" y1="295.22" x2="416.54" y2="297.64"/>
<line class="t" x1="419.78" y1="298.25" x2="416.52" y2="299"/>
<line class="t" x1="419.13" y1="301.34" x2="416.22" y2="300.39"/>
<line class="t" x1="417.95" y1="304.13" x2="415.69" y2="301.65"/>
<line class="t" x1="416.39" y1="306.31" x2="414.99" y2="302.63"/>
<line class="t" x1="414.63" y1="307.61" x2="414.2" y2="303.22"/>
<line class="t" x1="412.87" y1="307.9" x2="413.41" y2="303.34"/>
<line class="tl" x1="411.69" y1="290" x2="413.31" y2="297.21"/>
<line class="tl" x1="408.3" y1="293.11" x2="412.46" y2="297.99"/>
<line class="tl" x1="405.75" y1="297.64" x2="411.82" y2="299.12"/>
<line class="tl" x1="404.9" y1="301.6" x2="411.61" y2="300.11"/>
<line class="tl" x1="406.03" y1="305.56" x2="411.89" y2="301.1"/>
<line class="tl" x1="408.86" y1="308.11" x2="412.6" y2="301.74"/>
<ellipse class="k" cx="413.84" cy="299.62" rx="1.5" ry="2.4" transform="rotate(15 413.84 299.62)" />
<line class="ld" x1="422.2" y1="283.2" x2="416.4" y2="291.4"/>
<ellipse class="s" cx="427.5" cy="308" rx="2.4" ry="3.2" transform="rotate(29.6 427.5 308)" style="stroke-width:1.3"/>
<line class="ld" x1="420.2" y1="316.5" x2="425.6" y2="310.6"/>
<ellipse class="sd" cx="372.6" cy="333.7" rx="8.69" ry="12.6" transform="rotate(29.6 372.6 333.7)" />
<ellipse class="sf" cx="374.4" cy="334.7" rx="8.42" ry="12.2" transform="rotate(29.6 374.4 334.7)" />
<ellipse class="t" cx="374.6" cy="334.9" rx="7.18" ry="10.4" transform="rotate(29.6 374.6 334.9)" />
<ellipse class="sd" cx="375.2" cy="335.2" rx="4.55" ry="6.6" transform="rotate(29.6 375.2 335.2)" style="stroke-width:1.3"/>
<ellipse class="sf" cx="374.2" cy="334.6" rx="2.9" ry="5" transform="rotate(29.6 374.2 334.6)" />
<line class="ld" x1="363.8" y1="349.2" x2="367.8" y2="344.6"/>
<path class="sf" d="M396.93 342.45 L390.93 339.05 A2.03 2.7 -150.46 0 0 388.27 343.75 L394.27 347.15 A2.03 2.7 -150.46 0 0 396.93 342.45 Z" />
<path class="sf" d="M394.13 352.85 L388.13 349.45 A2.03 2.7 -150.46 0 0 385.47 354.15 L391.47 357.55 A2.03 2.7 -150.46 0 0 394.13 352.85 Z" />
<path class="sf" d="M404.33 337.25 L398.33 333.85 A2.03 2.7 -150.46 0 0 395.67 338.55 L401.67 341.95 A2.03 2.7 -150.46 0 0 404.33 337.25 Z" />
<path class="sf" d="M413.1 344.45 L402.3 338.35 A7.2 12 -150.54 0 0 390.5 359.25 L401.3 365.35 A7.2 12 -150.54 0 0 413.1 344.45 Z" /><ellipse class="sd" cx="407.2" cy="354.9" rx="7.2" ry="12" transform="rotate(-150.54 407.2 354.9)" />
<ellipse class="s" cx="407.2" cy="354.9" rx="7.2" ry="12" transform="rotate(29.6 407.2 354.9)" style="stroke-width:1.3"/>
<ellipse class="sf" cx="407.6" cy="355.1" rx="5.76" ry="9.6" transform="rotate(29.6 407.6 355.1)" />
<ellipse class="sd" cx="410.11" cy="359.59" rx="1.3" ry="1.9" transform="rotate(29.6 410.11 359.59)" />
<ellipse class="sd" cx="405.24" cy="362.27" rx="1.3" ry="1.9" transform="rotate(81.03 405.24 362.27)" />
<ellipse class="sd" cx="402.16" cy="359.54" rx="1.3" ry="1.9" transform="rotate(132.46 402.16 359.54)" />
<ellipse class="sd" cx="403.17" cy="353.48" rx="1.3" ry="1.9" transform="rotate(183.89 403.17 353.48)" />
<ellipse class="sd" cx="407.52" cy="348.63" rx="1.3" ry="1.9" transform="rotate(235.31 407.52 348.63)" />
<ellipse class="sd" cx="411.93" cy="348.66" rx="1.3" ry="1.9" transform="rotate(286.74 411.93 348.66)" />
<ellipse class="sd" cx="413.08" cy="353.54" rx="1.3" ry="1.9" transform="rotate(338.17 413.08 353.54)" />
<ellipse class="sf" cx="407.8" cy="355.2" rx="3.1" ry="5" transform="rotate(29.6 407.8 355.2)" style="stroke-width:1.3"/>
<path class="s" d="M406 351 L409 353 M406 359 L409.6 357.4" />
<line class="ld" x1="389.5" y1="367" x2="395" y2="363.8"/>
<path class="dd" d="M537.4 234.9 L456.8 190.4 L456.8 217"/>
<line class="dd" x1="456.7" y1="247" x2="456.7" y2="253.6"/>
<line class="dd" x1="456.7" y1="267" x2="456.7" y2="276"/>
<line class="dd" x1="456.7" y1="303" x2="456.7" y2="348"/>
<path class="dd" d="M537.4 234.9 L537.4 291.4 L601.2 327.5"/>
<path class="sf" d="M444.05 222.01 L435.13 217.55 A1.87 3.4 -153.43 0 0 432.09 223.64 L441.01 228.09 A1.87 3.4 -153.43 0 0 444.05 222.01 Z" />
<path class="sf" d="M464.84 243.72 L473.45 248.18 A1.9 3.8 27.35 0 0 476.95 241.43 L468.33 236.97 A1.9 3.8 27.35 0 0 464.84 243.72 Z" />
<path class="tl" d="M 471.34 240.65 L 472.23 247.33 M 473.42 241.83 L 474.01 248.07" />
<path class="sf" d="M 439.85 231.73 L 440.59 227.28 L 444.31 222.82 L 450.25 218.07 C 453.22 216.58 460.65 216.29 463.91 217.77 L 469.56 221.34 L 472.53 227.28 L 474.01 233.96 L 473.27 238.86 L 468.07 240.05 L 465.4 245.99 L 459.16 245.1 L 451.73 241.39 L 444.31 237.67 L 440.59 234.7 Z" style="stroke-width:1.15"/>
<ellipse class="s" cx="456.93" cy="225.35" rx="12.6" ry="6.8" transform="rotate(5 456.93 225.35)" />
<ellipse class="t" cx="456.93" cy="226.85" rx="12.6" ry="6.8" transform="rotate(5 456.93 226.85)" />
<ellipse class="sd" cx="457.13" cy="224.75" rx="7" ry="3.6" transform="rotate(5 457.13 224.75)" style="stroke-width:1.4"/>
<ellipse class="sf" cx="457.23" cy="224.55" rx="4.6" ry="2.1" transform="rotate(5 457.23 224.55)" />
<path class="t" d="M 441.04 233.22 C 445.79 238.42 454.7 241.39 463.91 240.35 C 468.81 239.46 472.23 236.93 473.72 233.96 M 443.57 230.25 C 447.28 235.45 456.19 237.97 463.91 236.93 C 468.07 236.19 471.04 233.96 472.23 230.99 M 451.73 241.39 L 452.03 237.97 M 463.91 240.35 L 463.91 245.4" />
<path class="tl" d="M 447.28 227.28 L 447.28 231.73 M 454.7 238.42 L 454.7 242.13 M 460.65 237.97 L 460.65 243.91" />
<line class="ld" x1="473.7" y1="232.7" x2="486" y2="232.7"/>
<ellipse class="sg" cx="456.9" cy="261.4" rx="10.9" ry="6.6" />
<ellipse class="sf" cx="456.9" cy="259" rx="10.9" ry="6.4" style="stroke-width:1.2"/>
<ellipse class="sd" cx="456.9" cy="258.6" rx="7" ry="3.9" style="stroke-width:1.4"/>
<ellipse class="sf" cx="456.9" cy="258.6" rx="4.2" ry="2.1" />
<path class="s" d="M446 261 C446 266 451 268.4 456.9 268.4 C463 268.4 467.8 266 467.8 261" style="stroke-width:1.3"/>
<line class="ld" x1="467.5" y1="262" x2="476.6" y2="262"/>
<path class="sf" d="M444.2 285 L444.2 297 C444.2 301 450 304 457 304 C464 304 469.8 301 469.8 297 L469.8 285 Z" style="stroke-width:1.15"/>
<ellipse class="sf" cx="457" cy="285" rx="12.8" ry="6.4" style="stroke-width:1.15"/>
<path class="sf" d="M448.3 289.4 L448.3 281.4 A2.3 1.9 0 0 1 452.90000000000003 281.4 L452.90000000000003 288.4 Z" />
<path class="sf" d="M452.5 286 L452.5 278 A2.3 1.9 0 0 1 457.1 278 L457.1 285 Z" />
<path class="sf" d="M457.7 286.2 L457.7 278.2 A2.3 1.9 0 0 1 462.3 278.2 L462.3 285.2 Z" />
<path class="sf" d="M461.7 289.6 L461.7 281.6 A2.3 1.9 0 0 1 466.3 281.6 L466.3 288.6 Z" />
<path class="sf" d="M446.9 292.6 L446.9 285.6 A2.3 1.9 0 0 1 451.5 285.6 L451.5 292.6 A2.3 1.3 0 0 1 446.9 292.6 Z" />
<path class="sf" d="M450.7 290.4 L450.7 283.4 A2.3 1.9 0 0 1 455.3 283.4 L455.3 290.4 A2.3 1.3 0 0 1 450.7 290.4 Z" />
<path class="sf" d="M459.3 290.6 L459.3 283.6 A2.3 1.9 0 0 1 463.90000000000003 283.6 L463.90000000000003 290.6 A2.3 1.3 0 0 1 459.3 290.6 Z" />
<path class="sf" d="M455.09999999999997 292.4 L455.09999999999997 285.4 A2.3 1.9 0 0 1 459.7 285.4 L459.7 292.4 A2.3 1.3 0 0 1 455.09999999999997 292.4 Z" />
<path class="sf" d="M462.9 293 L462.9 286 A2.3 1.9 0 0 1 467.5 286 L467.5 293 A2.3 1.3 0 0 1 462.9 293 Z" />
<line class="ld" x1="469.8" y1="291.6" x2="476.6" y2="291.6"/>
<!-- 12_box201.py -->
<path class="bx" d="M421.8 341.4 L476.9 341.4 L500.4 355.3 L500.4 456.5 L480.7 480.5 L410.7 480.5 L410.7 423.9 L422.3 417.6 Z"/>
<line class="ld" x1="413.5" y1="410.5" x2="422.3" y2="410.5"/>
<path class="ld" d="M446.7 405.6 L437.5 405.6 L437.5 469.9 L454.5 469.9 M437.5 421.1 L446 421.1 M437.5 432.1 L446.7 432.1 M437.5 455.1 L445.3 455.1 M431.9 462.8 L437.5 462.8" />
<path class="sf" d="M424 354.6 L427.4 353.4 L430.4 356.2 L427 357.6 Z"/>
<line class="dd" x1="415" y1="358.3" x2="436" y2="369.6"/>
<path class="dd" d="M474.4 363.7 L481.3 357.3 L478.4 354.8"/>
<path class="dd" d="M474.4 374.6 L490.4 383 L490.4 479.8 L513 491.6"/>
<line class="dd" x1="457.6" y1="338" x2="457.6" y2="347"/>
<line class="dd" x1="457" y1="384" x2="456.6" y2="398"/>
<line class="dd" x1="461.2" y1="385.3" x2="523" y2="419"/>
<path class="sf" d="M444.7 347.6 C441 347 438.6 350 438.3 353.8 C438.2 357 440 360 443 360.4 L448 358" />
<ellipse class="s" cx="441.4" cy="354" rx="2.2" ry="5.4" transform="rotate(15 441.4 354)" />
<path class="sf" d="M467 348 C468.6 345.6 471.6 344.8 474.2 346.4 C477 348 478 351.6 477.4 354.8 C476.6 358 474.6 360.2 472 360 L468.4 357.4" />
<ellipse class="s" cx="475.2" cy="353.4" rx="1.9" ry="4.4" transform="rotate(20 475.2 353.4)" />
<ellipse class="s" cx="475.4" cy="353.6" rx="0.9" ry="2.4" transform="rotate(20 475.4 353.6)" />
<path class="sg" style="fill:#f2f2f2" d="M445 356 C446 362 447 364 448 366 L470.4 362.7 C472 363.6 474.4 366 474.4 369.7 C474.4 373 473.4 375 471.4 375.8 L467.5 375.8 C465 376 463.4 377.4 462.5 378.6 L458.6 384.5 L454.6 390.6 L448.7 387.5 L441.7 388.5 L432.8 382.5 C431 380 430.6 378 430.8 376.6 L431.3 371.6 L432.8 364.7 C433.4 362.6 434.6 361 435.8 360.7 L439.8 361.2 Z" />
<path class="sf" d="M445 355.4 L446.4 366 C450 371 464 371.6 469.4 366 L470.2 355.4" />
<ellipse class="sf" cx="457.6" cy="355.3" rx="12.6" ry="7.4" style="stroke-width:1.1"/>
<ellipse class="sd" cx="457.8" cy="355.6" rx="8.6" ry="4.8" />
<ellipse class="sf" cx="457.8" cy="355.6" rx="6.2" ry="3.4" />
<ellipse class="sd" cx="457.8" cy="355.9" rx="3" ry="1.6" />
<path class="tl" d="M447 370 C452 376 462 376 468.6 371" />
<ellipse class="sf" cx="470.6" cy="372.4" rx="2.6" ry="3.4" transform="rotate(20 470.6 372.4)" />
<path class="s" d="M433 364 C435 360.6 439 361 441 364 L444.6 372 L458 381.6 C460 384 459.6 386.6 458 387 M441 364 L457 375 C459.6 377.4 460 380 458 381.6" style="stroke-width:1.2"/>
<ellipse class="s" cx="439.4" cy="368.4" rx="1.9" ry="3.6" transform="rotate(-20 439.4 368.4)" />
<ellipse class="sf" cx="453.4" cy="381.4" rx="2.4" ry="3.9" transform="rotate(25 453.4 381.4)" />
<path class="tl" d="M440 372 L450 389 M436 374 L436 384 M444 380 L446 388" />
<ellipse class="s" cx="445.6" cy="364" rx="2" ry="1.3" transform="rotate(20 445.6 364)" />
<path class="sd" d="M476.05 367.24 L486.05 373.04 A0.95 1.9 30.11 0 0 487.95 369.76 L477.95 363.96 A0.95 1.9 30.11 0 0 476.05 367.24 Z" />
<path class="sf" d="M487 368.2 L490 366.6 L493.6 368.6 L494.2 372.6 L491.4 376 L488 375.8 L486.2 373 Z"/>
<path class="t" d="M490 366.6 L489.6 370.6 L486.2 373 M489.6 370.6 L494.2 372.6" />
<path class="sg" d="M447.4 399.9 C448.4 397.6 450 396.6 451.7 396.4 L458.7 396.4 L471.5 402.7 C472 400.6 473 399.9 474.3 399.9 L477.6 400.2 C479 400.6 479.6 402 479.4 403.6 L479.3 407 C479.2 410.6 478.6 412.6 477.1 414 C474 416.6 470.4 416.6 467.2 416.2 L458.7 413.3 L447.4 407 Z" />
<path class="t" d="M447.4 402.6 L458.6 408.6 L467 411 C471 411.4 475 410 478 407" />
<ellipse class="sf" cx="453.8" cy="400.6" rx="5.4" ry="3" style="stroke-width:1.2"/>
<ellipse class="s" cx="453.8" cy="401" rx="3.6" ry="1.8" />
<ellipse class="sf" cx="465.1" cy="406.3" rx="5.4" ry="3.4" style="stroke-width:1.6"/>
<ellipse class="s" cx="465.1" cy="406.6" rx="3.4" ry="1.9" />
<ellipse class="s" cx="475.6" cy="401.4" rx="2.2" ry="1.3" />
<path class="sf" d="M445 421.0 C445 424.4 448 425.79999999999995 451 425.79999999999995 C454 425.79999999999995 457 424.4 457 421.0 L455 417.79999999999995 L447 417.79999999999995 Z" style="stroke-width:1.2"/>
<ellipse class="s" cx="451" cy="422" rx="5.6" ry="2.6" />
<ellipse class="sf" cx="451" cy="417.4" rx="3.6" ry="1.8" style="stroke-width:1.2"/>
<ellipse class="k" cx="451" cy="417.6" rx="1.8" ry="0.8" />
<path class="sf" d="M459.1 426.70000000000005 C459.1 430.1 462.1 431.5 465.1 431.5 C468.1 431.5 471.1 430.1 471.1 426.70000000000005 L469.1 423.5 L461.1 423.5 Z" style="stroke-width:1.2"/>
<ellipse class="s" cx="465.1" cy="427.7" rx="5.6" ry="2.6" />
<ellipse class="sf" cx="465.1" cy="423.1" rx="3.6" ry="1.8" style="stroke-width:1.2"/>
<ellipse class="k" cx="465.1" cy="423.3" rx="1.8" ry="0.8" />
<path class="sf" d="M447.4 431.7 L450 432 L452.6 429.2 L454 430 C454 434 456 438 459.6 441 L463 442.4 C466 442.4 468.6 441 469.6 438.4 L470.4 438.8 C470.4 442 468 444.6 464 445 L461.6 444.5 C455 443 449.4 437 447.4 431.7 Z" />
<path class="sf" d="M445.3 452.9 L454.5 446.6 L458.7 447.3 L479.3 459.3 L478.6 462.8 C475 465 471 465.8 467.2 465.7 L461.6 465 L446 456.5 Z" style="stroke-width:1.5"/>
<path class="s" d="M448.6 453.2 L455 449 L465 454.6 L458.6 459 Z M467 455.6 L475.6 460.4 L468 463 L460.6 459.6 Z" style="stroke-width:1.1"/>
<path class="t" d="M451 451.4 L462 457.6 M455 455.6 L460 452 M463 461.2 L471 458 M466 456 L470 462" />
<ellipse class="sf" cx="458.7" cy="470.3" rx="4.5" ry="3" />
<path class="t" d="M456.6 469.2 L460.8 471.4 M456.6 471.4 L460.8 469.2" />
<!-- 13_gears.py -->
<path class="sf" d="M562.3 385.49 L561.61 386.67 L560.39 386.19 L559.79 387.15 L560.72 388.08 L559.96 389.21 L558.84 388.54 L558.18 389.45 L558.99 390.55 L558.17 391.62 L557.16 390.77 L556.46 391.62 L557.13 392.88 L556.25 393.87 L555.37 392.85 L554.63 393.64 L555.16 395.04 L554.24 395.95 L553.49 394.76 L552.72 395.48 L553.1 397.01 L552.15 397.82 L551.54 396.49 L550.74 397.12 L550.97 398.76 L549.99 399.48 L549.53 398 L548.71 398.55 L548.79 400.29 L547.8 400.89 L547.49 399.3 L546.67 399.75 L546.58 401.57 L545.59 402.06 L545.43 400.36 L544.61 400.72 L544.37 402.59 L543.39 402.96 L543.39 401.17 L542.58 401.43 L542.19 403.34 L541.22 403.59 L541.37 401.73 L540.58 401.89 L540.04 403.82 L539.1 403.94 L539.41 402.03 L538.64 402.08 L537.96 404.02 L537.05 404.01 L537.51 402.07 L536.78 402.01 L535.96 403.93 L535.1 403.8 L535.71 401.85 L535.02 401.68 L534.08 403.56 L533.26 403.3 L534.01 401.36 L533.37 401.09 L532.31 402.91 L531.56 402.53 L532.44 400.62 L531.86 400.25 L530.69 401.99 L530.01 401.49 L531.02 399.62 L530.49 399.16 L529.23 400.81 L528.63 400.19 L529.75 398.39 L529.29 397.84 L527.94 399.37 L527.43 398.65 L528.65 396.94 L528.26 396.3 L526.85 397.7 L526.42 396.88 L527.73 395.27 L527.41 394.55 L525.95 395.82 L525.61 394.9 L527 393.41 L526.76 392.62 L525.26 393.73 L525.02 392.73 L526.47 391.38 L526.31 390.52 L524.79 391.46 L524.65 390.39 L526.14 389.19 L526.07 388.27 L524.54 389.04 L524.5 387.91 L526.02 386.87 L526.03 385.91 L524.51 386.49 L524.57 385.31 L526.11 384.44 L526.2 383.45 L524.7 383.84 L524.86 382.62 L526.4 381.93 L526.58 380.91 L525.12 381.11 L525.38 379.87 L526.9 379.37 L527.16 378.33 L525.75 378.33 L526.11 377.08 L527.6 376.77 L527.93 375.73 L526.6 375.54 L527.05 374.28 L528.49 374.17 L528.9 373.13 L527.65 372.75 L528.18 371.5 L529.56 371.59 L530.04 370.57 L528.88 370 L529.5 368.78 L530.81 369.06 L531.35 368.07 L530.3 367.31 L530.99 366.13 L532.21 366.61 L532.81 365.65 L531.88 364.72 L532.64 363.59 L533.76 364.26 L534.42 363.35 L533.61 362.25 L534.43 361.18 L535.44 362.03 L536.14 361.18 L535.47 359.92 L536.35 358.93 L537.23 359.95 L537.97 359.16 L537.44 357.76 L538.36 356.85 L539.11 358.04 L539.88 357.32 L539.5 355.79 L540.45 354.98 L541.06 356.31 L541.86 355.68 L541.63 354.04 L542.61 353.32 L543.07 354.8 L543.89 354.25 L543.81 352.51 L544.8 351.91 L545.11 353.5 L545.93 353.05 L546.02 351.23 L547.01 350.74 L547.17 352.44 L547.99 352.08 L548.23 350.21 L549.21 349.84 L549.21 351.63 L550.02 351.37 L550.41 349.46 L551.38 349.21 L551.23 351.07 L552.02 350.91 L552.56 348.98 L553.5 348.86 L553.19 350.77 L553.96 350.72 L554.64 348.78 L555.55 348.79 L555.09 350.73 L555.82 350.79 L556.64 348.87 L557.5 349 L556.89 350.95 L557.58 351.12 L558.52 349.24 L559.34 349.5 L558.59 351.44 L559.23 351.71 L560.29 349.89 L561.04 350.27 L560.16 352.18 L560.74 352.55 L561.91 350.81 L562.59 351.31 L561.58 353.18 L562.11 353.64 L563.37 351.99 L563.97 352.61 L562.85 354.41 L563.31 354.96 L564.66 353.43 L565.17 354.15 L563.95 355.86 L564.34 356.5 L565.75 355.1 L566.18 355.92 L564.87 357.53 L565.19 358.25 L566.65 356.98 L566.99 357.9 L565.6 359.39 L565.84 360.18 L567.34 359.07 L567.58 360.07 L566.13 361.42 L566.29 362.28 L567.81 361.34 L567.95 362.41 L566.46 363.61 L566.53 364.53 L568.06 363.76 L568.1 364.89 L566.58 365.93 L566.57 366.89 L568.09 366.31 L568.03 367.49 L566.49 368.36 L566.4 369.35 L567.9 368.96 L567.74 370.18 L566.2 370.87 L566.02 371.89 L567.48 371.69 L567.22 372.93 L565.7 373.43 L565.44 374.47 L566.85 374.47 L566.49 375.72 L565 376.03 L564.67 377.07 L566 377.26 L565.55 378.52 L564.11 378.63 L563.7 379.67 L564.95 380.05 L564.42 381.3 L563.04 381.21 L562.56 382.23 L563.72 382.8 L563.1 384.02 L561.79 383.74 L561.25 384.73 Z"/>
<line class="s" style="stroke-width:0.9" x1="537.54" y1="405.84" x2="533.64" y2="403.64"/>
<line class="s" style="stroke-width:0.9" x1="535.78" y1="405.13" x2="531.88" y2="402.93"/>
<line class="s" style="stroke-width:0.9" x1="534.17" y1="404.14" x2="530.27" y2="401.94"/>
<line class="s" style="stroke-width:0.9" x1="532.73" y1="402.9" x2="528.83" y2="400.7"/>
<line class="s" style="stroke-width:0.9" x1="531.47" y1="401.4" x2="527.57" y2="399.2"/>
<line class="s" style="stroke-width:0.9" x1="530.4" y1="399.67" x2="526.5" y2="397.47"/>
<line class="s" style="stroke-width:0.9" x1="529.53" y1="397.72" x2="525.63" y2="395.52"/>
<line class="s" style="stroke-width:0.9" x1="528.87" y1="395.58" x2="524.97" y2="393.38"/>
<line class="s" style="stroke-width:0.9" x1="528.43" y1="393.27" x2="524.53" y2="391.07"/>
<line class="s" style="stroke-width:0.9" x1="528.22" y1="390.8" x2="524.32" y2="388.6"/>
<line class="s" style="stroke-width:0.9" x1="528.23" y1="388.21" x2="524.33" y2="386.01"/>
<line class="s" style="stroke-width:0.9" x1="528.47" y1="385.52" x2="524.57" y2="383.32"/>
<line class="s" style="stroke-width:0.9" x1="528.93" y1="382.75" x2="525.03" y2="380.55"/>
<line class="s" style="stroke-width:0.9" x1="529.61" y1="379.95" x2="525.71" y2="377.75"/>
<line class="s" style="stroke-width:0.9" x1="530.5" y1="377.13" x2="526.6" y2="374.93"/>
<line class="s" style="stroke-width:0.9" x1="531.59" y1="374.33" x2="527.69" y2="372.13"/>
<line class="s" style="stroke-width:0.9" x1="532.87" y1="371.57" x2="528.97" y2="369.37"/>
<line class="s" style="stroke-width:0.9" x1="534.33" y1="368.88" x2="530.43" y2="366.68"/>
<line class="s" style="stroke-width:0.9" x1="535.96" y1="366.3" x2="532.06" y2="364.1"/>
<line class="s" style="stroke-width:0.9" x1="537.73" y1="363.83" x2="533.83" y2="361.63"/>
<line class="s" style="stroke-width:0.9" x1="539.62" y1="361.52" x2="535.72" y2="359.32"/>
<line class="s" style="stroke-width:0.9" x1="541.63" y1="359.39" x2="537.73" y2="357.19"/>
<line class="s" style="stroke-width:0.9" x1="543.72" y1="357.45" x2="539.82" y2="355.25"/>
<line class="s" style="stroke-width:0.9" x1="545.88" y1="355.73" x2="541.98" y2="353.53"/>
<line class="s" style="stroke-width:0.9" x1="548.09" y1="354.25" x2="544.19" y2="352.05"/>
<line class="s" style="stroke-width:0.9" x1="550.32" y1="353.01" x2="546.42" y2="350.81"/>
<line class="s" style="stroke-width:0.9" x1="552.54" y1="352.04" x2="548.64" y2="349.84"/>
<line class="s" style="stroke-width:0.9" x1="554.74" y1="351.34" x2="550.84" y2="349.14"/>
<line class="s" style="stroke-width:0.9" x1="556.9" y1="350.92" x2="553" y2="348.72"/>
<line class="s" style="stroke-width:0.9" x1="558.98" y1="350.78" x2="555.08" y2="348.58"/>
<line class="s" style="stroke-width:0.9" x1="560.98" y1="350.93" x2="557.08" y2="348.73"/>
<line class="s" style="stroke-width:0.9" x1="562.86" y1="351.36" x2="558.96" y2="349.16"/>
<line class="s" style="stroke-width:0.9" x1="564.62" y1="352.07" x2="560.72" y2="349.87"/>
<line class="s" style="stroke-width:0.9" x1="566.23" y1="353.06" x2="562.33" y2="350.86"/>
<line class="s" style="stroke-width:0.9" x1="567.67" y1="354.3" x2="563.77" y2="352.1"/>
<line class="s" style="stroke-width:0.9" x1="568.93" y1="355.8" x2="565.03" y2="353.6"/>
<path class="sf" d="M566.2 387.69 L565.51 388.87 L564.29 388.39 L563.69 389.35 L564.62 390.28 L563.86 391.41 L562.74 390.74 L562.08 391.65 L562.89 392.75 L562.07 393.82 L561.06 392.97 L560.36 393.82 L561.03 395.08 L560.15 396.07 L559.27 395.05 L558.53 395.84 L559.06 397.24 L558.14 398.15 L557.39 396.96 L556.62 397.68 L557 399.21 L556.05 400.02 L555.44 398.69 L554.64 399.32 L554.87 400.96 L553.89 401.68 L553.43 400.2 L552.61 400.75 L552.69 402.49 L551.7 403.09 L551.39 401.5 L550.57 401.95 L550.48 403.77 L549.49 404.26 L549.33 402.56 L548.51 402.92 L548.27 404.79 L547.29 405.16 L547.29 403.37 L546.48 403.63 L546.09 405.54 L545.12 405.79 L545.27 403.93 L544.48 404.09 L543.94 406.02 L543 406.14 L543.31 404.23 L542.54 404.28 L541.86 406.22 L540.95 406.21 L541.41 404.27 L540.68 404.21 L539.86 406.13 L539 406 L539.61 404.05 L538.92 403.88 L537.98 405.76 L537.16 405.5 L537.91 403.56 L537.27 403.29 L536.21 405.11 L535.46 404.73 L536.34 402.82 L535.76 402.45 L534.59 404.19 L533.91 403.69 L534.92 401.82 L534.39 401.36 L533.13 403.01 L532.53 402.39 L533.65 400.59 L533.19 400.04 L531.84 401.57 L531.33 400.85 L532.55 399.14 L532.16 398.5 L530.75 399.9 L530.32 399.08 L531.63 397.47 L531.31 396.75 L529.85 398.02 L529.51 397.1 L530.9 395.61 L530.66 394.82 L529.16 395.93 L528.92 394.93 L530.37 393.58 L530.21 392.72 L528.69 393.66 L528.55 392.59 L530.04 391.39 L529.97 390.47 L528.44 391.24 L528.4 390.11 L529.92 389.07 L529.93 388.11 L528.41 388.69 L528.47 387.51 L530.01 386.64 L530.1 385.65 L528.6 386.04 L528.76 384.82 L530.3 384.13 L530.48 383.11 L529.02 383.31 L529.28 382.07 L530.8 381.57 L531.06 380.53 L529.65 380.53 L530.01 379.28 L531.5 378.97 L531.83 377.93 L530.5 377.74 L530.95 376.48 L532.39 376.37 L532.8 375.33 L531.55 374.95 L532.08 373.7 L533.46 373.79 L533.94 372.77 L532.78 372.2 L533.4 370.98 L534.71 371.26 L535.25 370.27 L534.2 369.51 L534.89 368.33 L536.11 368.81 L536.71 367.85 L535.78 366.92 L536.54 365.79 L537.66 366.46 L538.32 365.55 L537.51 364.45 L538.33 363.38 L539.34 364.23 L540.04 363.38 L539.37 362.12 L540.25 361.13 L541.13 362.15 L541.87 361.36 L541.34 359.96 L542.26 359.05 L543.01 360.24 L543.78 359.52 L543.4 357.99 L544.35 357.18 L544.96 358.51 L545.76 357.88 L545.53 356.24 L546.51 355.52 L546.97 357 L547.79 356.45 L547.71 354.71 L548.7 354.11 L549.01 355.7 L549.83 355.25 L549.92 353.43 L550.91 352.94 L551.07 354.64 L551.89 354.28 L552.13 352.41 L553.11 352.04 L553.11 353.83 L553.92 353.57 L554.31 351.66 L555.28 351.41 L555.13 353.27 L555.92 353.11 L556.46 351.18 L557.4 351.06 L557.09 352.97 L557.86 352.92 L558.54 350.98 L559.45 350.99 L558.99 352.93 L559.72 352.99 L560.54 351.07 L561.4 351.2 L560.79 353.15 L561.48 353.32 L562.42 351.44 L563.24 351.7 L562.49 353.64 L563.13 353.91 L564.19 352.09 L564.94 352.47 L564.06 354.38 L564.64 354.75 L565.81 353.01 L566.49 353.51 L565.48 355.38 L566.01 355.84 L567.27 354.19 L567.87 354.81 L566.75 356.61 L567.21 357.16 L568.56 355.63 L569.07 356.35 L567.85 358.06 L568.24 358.7 L569.65 357.3 L570.08 358.12 L568.77 359.73 L569.09 360.45 L570.55 359.18 L570.89 360.1 L569.5 361.59 L569.74 362.38 L571.24 361.27 L571.48 362.27 L570.03 363.62 L570.19 364.48 L571.71 363.54 L571.85 364.61 L570.36 365.81 L570.43 366.73 L571.96 365.96 L572 367.09 L570.48 368.13 L570.47 369.09 L571.99 368.51 L571.93 369.69 L570.39 370.56 L570.3 371.55 L571.8 371.16 L571.64 372.38 L570.1 373.07 L569.92 374.09 L571.38 373.89 L571.12 375.13 L569.6 375.63 L569.34 376.67 L570.75 376.67 L570.39 377.92 L568.9 378.23 L568.57 379.27 L569.9 379.46 L569.45 380.72 L568.01 380.83 L567.6 381.87 L568.85 382.25 L568.32 383.5 L566.94 383.41 L566.46 384.43 L567.62 385 L567 386.22 L565.69 385.94 L565.15 386.93 Z"/>
<ellipse class="s" cx="550.2" cy="378.6" rx="16.2" ry="27.2" transform="rotate(29.6 550.2 378.6)" />
<path class="sf" d="M 541.37 367.25 L 555.62 357.64 C 557.41 356.65 559.39 358.83 557.8 361.01 L 544.34 370.71 C 542.26 371.7 539.78 369.23 541.37 367.25 Z" />
<path class="sf" d="M 541.76 399.23 L 556.42 388.73 C 558.4 387.74 560.18 390.12 558.4 392.1 L 544.34 402.59 C 542.26 403.58 540.18 401.21 541.76 399.23 Z" />
<path class="sf" d="M 534.34 383.58 C 535.33 380.12 539.29 378.14 540.97 379.62 C 540.28 383.58 537.8 389.52 534.83 392.99 C 533.35 391.5 533.35 386.55 534.34 383.58 Z" />
<path class="sf" d="M 560.08 371.7 C 561.56 367.74 564.53 363.29 566.71 362.99 C 568 365.76 567.5 373.68 564.53 378.14 C 562.06 380.12 559.09 375.66 560.08 371.7 Z" />
<path class="t" d="M 535.82 384.57 L 539.29 380.81 M 561.56 373.68 L 565.52 365.76" />
<path class="sf" d="M 543.25 372.2 L 547.7 368.24 L 552.16 367.74 L 557.11 364.97 L 558.59 366.26 L 558.1 370.71 L 559.58 374.67 L 558.79 379.62 L 560.08 383.58 L 556.61 386.55 L 552.16 387.05 L 547.7 390.02 L 543.94 391.5 L 542.26 389.52 L 543.94 385.56 L 542.75 381.6 L 544.73 376.65 Z" style="stroke-width:1.2"/>
<path class="s" d="M 546.71 375.66 L 552.16 373.68 L 557.11 376.65 L 556.61 382.59 L 551.66 385.56 L 546.71 383.09 Z M 546.71 375.66 L 546.71 383.09 M 552.16 373.68 L 551.66 385.56 M 547.7 378.63 L 556.12 379.62 M 543.94 385.56 L 546.71 383.09 M 557.11 376.65 L 559.58 374.67 M 552.16 367.74 L 552.16 373.68 M 544.73 376.65 L 546.71 375.66" />
<path class="tl" d="M 547.7 376.65 L 551.17 375.47 M 547.7 381.11 L 551.17 380.12 M 552.65 376.65 L 556.12 378.14 M 552.65 381.6 L 556.12 382.59" />
<path class="s" d="M 543.94 388.53 C 544.73 387.05 546.71 387.05 547.7 388.53" style="stroke-width:1.4"/>
<line class="ld" x1="564.5" y1="347.2" x2="562.2" y2="351.4"/>
<line class="dd" x1="561.4" y1="385.6" x2="605.4" y2="410.8"/>
<line class="dd" x1="610.4" y1="413.6" x2="615" y2="416.2"/>
<line class="dd" x1="628" y1="423.6" x2="636" y2="428"/>
<line class="dd" x1="530.4" y1="425.3" x2="535.7" y2="428.4"/>
<line class="dd" x1="577" y1="451.8" x2="581.6" y2="454.6"/>
<line class="dd" x1="592.4" y1="460.8" x2="597.4" y2="463.8"/>
<line class="dd" x1="601.4" y1="466" x2="606.8" y2="469"/>
<path class="dd" d="M614.8 473.2 L617.8 474.8"/>
<path class="dd" d="M632 465.4 L617.8 457.7 L617.8 553.2 L594.6 541"/>
<line class="dd" x1="500" y1="486.4" x2="506.4" y2="490.2"/>
<line class="dd" x1="514.4" y1="494.6" x2="518.4" y2="496.8"/>
<line class="dd" x1="543.4" y1="510.4" x2="546.4" y2="512.2"/>
<line class="dd" x1="559.4" y1="519.6" x2="563" y2="521.8"/>
<line class="dd" x1="582.6" y1="533.2" x2="587.6" y2="536.2"/>
<rect class="bx" x="575.7" y="362.7" width="25.3" height="76.9" />
<line class="ld" x1="592.5" y1="358.6" x2="590.2" y2="362.7"/>
<line class="ld" x1="588.3" y1="375.2" x2="588.3" y2="382.6"/>
<line class="ld" x1="588.3" y1="420.6" x2="588.3" y2="427.6"/>
<path class="sf" d="M586.0 367.2 L586.0 374.59999999999997 A2.3 1.1 0 0 0 590.5999999999999 374.59999999999997 L590.5999999999999 367.2 A2.3 1.1 0 0 0 586.0 367.2 Z" />
<path class="t" d="M586.0 367.2 A2.3 1.1 0 0 0 590.5999999999999 367.2" />
<path class="sf" d="M586.0 428.8 L586.0 436.2 A2.3 1.1 0 0 0 590.5999999999999 436.2 L590.5999999999999 428.8 A2.3 1.1 0 0 0 586.0 428.8 Z" />
<path class="t" d="M586.0 428.8 A2.3 1.1 0 0 0 590.5999999999999 428.8" />
<path class="sf" d="M578.1 390.06 C578.17 390.46 578.47 392.48 578.6 393.07 C578.73 393.66 578.96 394.39 579.09 394.5 C579.22 394.6 579.44 394.2 579.58 393.83 C579.71 393.47 579.93 391.97 580.08 391.73 C580.22 391.48 580.53 391.63 580.67 392.02 C580.82 392.41 581.04 394.13 581.17 394.63 C581.31 395.14 581.53 395.77 581.66 395.81 C581.79 395.86 582.02 395.39 582.15 394.97 C582.28 394.56 582.5 393 582.65 392.72 C582.8 392.44 583.1 392.51 583.25 392.87 C583.4 393.22 583.62 394.9 583.75 395.38 C583.88 395.86 584.11 396.45 584.24 396.47 C584.37 396.49 584.59 395.98 584.73 395.55 C584.86 395.12 585.08 393.52 585.23 393.22 C585.37 392.92 585.68 392.95 585.82 393.29 C585.97 393.62 586.19 395.27 586.32 395.73 C586.46 396.2 586.68 396.76 586.81 396.76 C586.94 396.77 587.17 396.24 587.3 395.79 C587.43 395.34 587.65 393.72 587.8 393.4 C587.95 393.08 588.25 393.08 588.4 393.4 C588.55 393.72 588.77 395.34 588.9 395.79 C589.03 396.24 589.26 396.77 589.39 396.76 C589.52 396.76 589.74 396.2 589.88 395.73 C590.01 395.27 590.23 393.62 590.38 393.29 C590.52 392.95 590.83 392.92 590.97 393.22 C591.12 393.52 591.34 395.12 591.47 395.55 C591.61 395.98 591.83 396.49 591.96 396.47 C592.09 396.45 592.32 395.86 592.45 395.38 C592.58 394.9 592.8 393.22 592.95 392.87 C593.1 392.51 593.4 392.44 593.55 392.72 C593.7 393 593.92 394.56 594.05 394.97 C594.18 395.39 594.41 395.86 594.54 395.81 C594.67 395.77 594.89 395.14 595.03 394.63 C595.16 394.13 595.38 392.41 595.53 392.02 C595.67 391.63 595.98 391.48 596.12 391.73 C596.27 391.97 596.49 393.47 596.62 393.83 C596.76 394.2 596.98 394.6 597.11 394.5 C597.24 394.39 597.47 393.66 597.6 393.07 C597.73 392.48 598.03 390.46 598.1 390.06" />
<path class="sf" d="M598.6 389.2 L596 385.4 L591.6 383 L588 382.6 L584.6 383 L580.2 385.4 L577.7 389.2 L577.8 389.6 L578.1 390.06 L578.6 393.07 L579.09 394.5 L579.58 393.83 L580.08 391.73 L580.67 392.02 L581.17 394.63 L581.66 395.81 L582.15 394.97 L582.65 392.72 L583.25 392.87 L583.75 395.38 L584.24 396.47 L584.73 395.55 L585.23 393.22 L585.82 393.29 L586.32 395.73 L586.81 396.76 L587.3 395.79 L587.8 393.4 L588.4 393.4 L588.9 395.79 L589.39 396.76 L589.88 395.73 L590.38 393.29 L590.97 393.22 L591.47 395.55 L591.96 396.47 L592.45 395.38 L592.95 392.87 L593.55 392.72 L594.05 394.97 L594.54 395.81 L595.03 394.63 L595.53 392.02 L596.12 391.73 L596.62 393.83 L597.11 394.5 L597.6 393.07 L598.1 390.06 L598.4 389.6 Z"/>
<line class="t" x1="580.38" y1="392.68" x2="584.62" y2="388.27"/>
<line class="t" x1="582.95" y1="393.6" x2="585.78" y2="388.59"/>
<line class="t" x1="585.52" y1="394.06" x2="586.94" y2="388.75"/>
<line class="t" x1="588.1" y1="394.2" x2="588.1" y2="388.8"/>
<line class="t" x1="590.67" y1="394.06" x2="589.26" y2="388.75"/>
<line class="t" x1="593.25" y1="393.6" x2="590.42" y2="388.59"/>
<line class="t" x1="595.82" y1="392.68" x2="591.58" y2="388.27"/>
<ellipse class="sf" cx="588.1" cy="386.2" rx="3.2" ry="1.6" />
<path class="t" d="M586.6 386.2 L589.6 386.2 M588.1 385.2 L588.1 387.2" />
<path class="sf" d="M577.8 411.4 L578.1 410.85 L578.6 408.29 L579.09 407.1 L579.58 407.59 L580.08 409.33 L580.67 409.06 L581.17 406.87 L581.66 405.9 L582.15 406.56 L582.65 408.42 L583.25 408.28 L583.75 406.19 L584.24 405.3 L584.73 406.03 L585.23 407.96 L585.82 407.9 L586.32 405.86 L586.81 405.03 L587.3 405.81 L587.8 407.8 L588.4 407.8 L588.9 405.81 L589.39 405.03 L589.88 405.86 L590.38 407.9 L590.97 407.96 L591.47 406.03 L591.96 405.3 L592.45 406.19 L592.95 408.28 L593.55 408.42 L594.05 406.56 L594.54 405.9 L595.03 406.87 L595.53 409.06 L596.12 409.33 L596.62 407.59 L597.11 407.1 L597.6 408.29 L598.1 410.85 L598.4 411.4 L598.6 412 L596 416 L592 419.4 L588 420.6 L584 419.4 L580 416 L577.7 412 Z"/>
<path class="s" d="M577.8 411.6 C581 415.6 595 415.6 598.4 411.6" />
<line class="t" x1="580.38" y1="408.59" x2="585.4" y2="410.06"/>
<line class="tl" x1="580.38" y1="413.61" x2="586.17" y2="419.6"/>
<line class="t" x1="582.95" y1="407.75" x2="586.3" y2="409.9"/>
<line class="tl" x1="582.95" y1="414.21" x2="586.81" y2="419.6"/>
<line class="t" x1="585.52" y1="407.33" x2="587.2" y2="409.82"/>
<line class="tl" x1="585.52" y1="414.51" x2="587.46" y2="419.6"/>
<line class="t" x1="588.1" y1="407.2" x2="588.1" y2="409.8"/>
<line class="tl" x1="588.1" y1="414.6" x2="588.1" y2="419.6"/>
<line class="t" x1="590.67" y1="407.33" x2="589" y2="409.82"/>
<line class="tl" x1="590.67" y1="414.51" x2="588.74" y2="419.6"/>
<line class="t" x1="593.25" y1="407.75" x2="589.9" y2="409.9"/>
<line class="tl" x1="593.25" y1="414.21" x2="589.39" y2="419.6"/>
<line class="t" x1="595.82" y1="408.59" x2="590.8" y2="410.06"/>
<line class="tl" x1="595.82" y1="413.61" x2="590.03" y2="419.6"/>
<ellipse class="sf" cx="588.1" cy="409.8" rx="2.9" ry="1.5" />
<ellipse class="s" cx="607.7" cy="412" rx="2.2" ry="3.1" transform="rotate(29.6 607.7 412)" style="stroke-width:1.3"/>
<line class="ld" x1="612.7" y1="404.6" x2="609.6" y2="409.6"/>
<path class="sf" d="M624.71 410.27 C625.61 410.36 627.28 412.03 627.96 413 C628.63 413.97 629.61 416.34 629.78 417.56 C629.95 418.77 629.76 420.89 629.26 422.11 C628.76 423.32 627.05 425.62 626.01 426.66 C624.97 427.7 622.5 429.37 621.46 429.91 C620.42 430.45 618.83 430.85 618.21 430.69 C617.58 430.53 617.14 428.78 616.77 428.73 C616.4 428.69 615.72 430.22 615.42 430.35 C615.11 430.47 614.56 430.06 614.51 429.67 C614.46 429.28 614.97 427.73 615.03 427.43 C615.1 427.12 615.2 427.24 614.97 427.35 C614.75 427.47 613.66 428.31 613.37 428.28 C613.08 428.25 612.71 427.56 612.77 427.14 C612.83 426.73 613.69 425.44 613.83 425.17 C613.96 424.89 614.02 425.06 613.79 425.06 C613.57 425.06 612.4 425.36 612.16 425.18 C611.91 425.01 611.78 424.13 611.95 423.74 C612.11 423.36 613.2 422.51 613.39 422.3 C613.58 422.09 613.58 422.29 613.39 422.18 C613.2 422.07 612.11 421.77 611.95 421.47 C611.78 421.17 611.91 420.23 612.15 419.92 C612.4 419.62 613.56 419.32 613.79 419.21 C614.01 419.1 613.96 419.3 613.82 419.09 C613.68 418.88 612.82 418.03 612.76 417.65 C612.7 417.27 613.06 416.39 613.35 416.21 C613.65 416.03 614.74 416.32 614.96 416.32 C615.18 416.32 615.08 416.49 615.02 416.21 C614.96 415.94 614.44 414.66 614.49 414.24 C614.54 413.83 615.09 413.13 615.39 413.1 C615.7 413.07 616.56 413.91 616.75 414.02 C616.94 414.14 616.81 414.26 616.83 413.95 C616.85 413.64 616.75 412.1 616.91 411.71 C617.06 411.32 617.73 410.9 617.99 411.02 C618.26 411.14 618.78 412.42 618.92 412.63 C619.05 412.84 618.91 412.89 619.01 412.6 C619.11 412.3 619.44 410.71 619.68 410.39 C619.91 410.08 620.6 410 620.8 410.26 C621 410.51 620.64 412.33 621.16 412.33 C621.69 412.33 623.8 410.18 624.71 410.27 Z" />
<path class="t" d="M621.46 411.38 C620.91 411.97 619.07 413.49 618.21 414.95 C617.34 416.42 616.47 418.42 616.25 420.16 C616.04 421.89 616.36 423.84 616.91 425.36 C617.45 426.87 619.07 428.61 619.51 429.26" />
<ellipse class="sd" cx="623.1" cy="421.5" rx="3" ry="4.5" transform="rotate(15 623.1 421.5)" style="fill:#9a9a9a"/>
<ellipse class="sg" cx="622.9" cy="421.6" rx="1.4" ry="2.2" transform="rotate(15 622.9 421.6)" />
<line class="ld" x1="632.6" y1="407.6" x2="626" y2="413.4"/>
<path class="sf" d="M643.46 434.68 C643.08 435.21 642.64 435.71 642.2 436.14 C641.75 436.57 641.26 436.96 640.78 437.26 C640.3 437.57 639.8 437.81 639.32 437.97 C638.84 438.13 638.35 438.22 637.9 438.22 C637.45 438.22 637.01 438.14 636.62 437.99 C636.24 437.84 635.88 437.6 635.58 437.3 C635.28 437 635.02 436.61 634.83 436.19 C634.64 435.76 634.51 435.26 634.44 434.74 C634.37 434.21 634.37 433.63 634.43 433.05 C634.49 432.46 634.61 431.84 634.79 431.23 C634.98 430.63 635.22 430 635.52 429.41 C635.81 428.83 636.16 428.24 636.54 427.72 C636.92 427.19 637.36 426.69 637.8 426.26 C638.25 425.83 638.74 425.44 639.22 425.14 C639.7 424.83 640.2 424.59 640.68 424.43 C641.16 424.27 641.65 424.18 642.1 424.18 C642.55 424.18 642.99 424.26 643.38 424.41 C643.76 424.56 644.12 424.8 644.42 425.1 C644.72 425.4 644.98 425.79 645.17 426.21 C645.36 426.64 645.49 427.14 645.56 427.66 C645.63 428.19 645.63 428.77 645.57 429.35 C645.51 429.94 645.39 430.56 645.21 431.17 C645.02 431.77 644.78 432.4 644.48 432.99 C644.19 433.57 643.84 434.16 643.46 434.68 Z" />
<path class="sf" d="M647.06 436.68 C646.84 437.3 646.33 437.91 645.88 438.34 C645.44 438.77 644.86 439.22 644.38 439.26 C643.91 439.31 643.54 438.46 643.06 438.62 C642.57 438.78 641.99 439.95 641.5 440.22 C641.01 440.49 640.48 440.42 640.09 440.26 C639.7 440.11 639.28 439.81 639.18 439.3 C639.07 438.78 639.66 437.62 639.47 437.19 C639.28 436.76 638.32 437.08 638.04 436.74 C637.76 436.39 637.75 435.71 637.81 435.12 C637.86 434.54 638.03 433.79 638.39 433.23 C638.76 432.67 639.72 432.36 640.01 431.77 C640.3 431.19 639.92 430.34 640.14 429.72 C640.36 429.1 640.87 428.49 641.32 428.06 C641.76 427.63 642.34 427.18 642.82 427.14 C643.29 427.09 643.66 427.94 644.14 427.78 C644.63 427.62 645.21 426.45 645.7 426.18 C646.19 425.91 646.72 425.98 647.11 426.14 C647.5 426.29 647.92 426.59 648.02 427.1 C648.13 427.62 647.54 428.78 647.73 429.21 C647.92 429.64 648.88 429.32 649.16 429.66 C649.44 430.01 649.45 430.69 649.39 431.28 C649.34 431.86 649.17 432.61 648.81 433.17 C648.44 433.73 647.48 434.04 647.19 434.63 C646.9 435.21 647.28 436.06 647.06 436.68 Z" />
<path class="t" d="M643.6 433.2 L646.6 427.8 M643.6 433.2 L647.6 437.8 M643.6 433.2 L638.6 435.4 M639.6 424.4 L643.2 426.4 M635.2 430.8 L638.6 432.8 M637.6 438.2 L641.2 440.2" />
<line class="ld" x1="652.6" y1="422.4" x2="647.6" y2="427"/>
<ellipse class="sg" cx="526.4" cy="422.9" rx="3.7" ry="5.3" transform="rotate(20 526.4 422.9)" /><ellipse class="sf" cx="526.6" cy="423" rx="1.55" ry="2.23" transform="rotate(20 526.6 423)" />
<line class="ld" x1="524.8" y1="436.2" x2="524.8" y2="428.4"/>
<path class="sf" d="M577.18 449.17 L538.18 426.57 A1.41 2.35 -149.91 0 0 535.82 430.63 L574.82 453.23 A1.41 2.35 -149.91 0 0 577.18 449.17 Z" /><ellipse class="sf" cx="537" cy="428.6" rx="1.41" ry="2.35" transform="rotate(-149.91 537 428.6)" />
<line class="t" x1="538.69" y1="427.09" x2="536.51" y2="430.91"/>
<line class="t" x1="539.99" y1="427.83" x2="537.82" y2="431.65"/>
<line class="t" x1="541.3" y1="428.57" x2="539.12" y2="432.39"/>
<line class="t" x1="542.6" y1="429.31" x2="540.43" y2="433.14"/>
<line class="t" x1="543.9" y1="430.05" x2="541.73" y2="433.88"/>
<line class="t" x1="545.21" y1="430.79" x2="543.03" y2="434.62"/>
<line class="s" x1="567.14" y1="443.4" x2="564.86" y2="447.4"/>
<line class="s" x1="568.44" y1="444.14" x2="566.17" y2="448.14"/>
<line class="s" x1="569.74" y1="444.88" x2="567.47" y2="448.88"/>
<line class="s" x1="571.05" y1="445.62" x2="568.78" y2="449.62"/>
<line class="s" x1="572.35" y1="446.36" x2="570.08" y2="450.36"/>
<line class="s" x1="573.66" y1="447.1" x2="571.39" y2="451.1"/>
<line class="s" x1="574.96" y1="447.85" x2="572.69" y2="451.85"/>
<path class="k" d="M560.4 439.6 L558.2 443.6 L560.2 444.8 L562.6 440.8 Z" />
<line class="ld" x1="547.7" y1="449.3" x2="552" y2="443.4"/>
<path class="sd" d="M589.6 459.47 L588.69 460.81 L587.89 460.31 L587.11 461.09 L587.36 462.17 L586.16 462.98 L585.82 461.93 L584.95 462.24 L584.65 463.53 L583.47 463.6 L583.7 462.29 L582.96 462.05 L582.19 463.2 L581.35 462.5 L582.08 461.29 L581.68 460.55 L580.65 461.26 L580.37 459.99 L581.4 459.19 L581.45 458.16 L580.43 458.23 L580.8 456.73 L581.85 456.55 L582.33 455.51 L581.6 454.93 L582.51 453.59 L583.31 454.09 L584.09 453.31 L583.84 452.23 L585.04 451.42 L585.38 452.47 L586.25 452.16 L586.55 450.87 L587.73 450.8 L587.5 452.11 L588.24 452.35 L589.01 451.2 L589.85 451.9 L589.12 453.11 L589.52 453.85 L590.55 453.14 L590.83 454.41 L589.8 455.21 L589.75 456.24 L590.77 456.17 L590.4 457.67 L589.35 457.85 L588.87 458.89 Z"/>
<path class="sg" d="M591.6 460.57 L590.69 461.91 L589.89 461.41 L589.11 462.19 L589.36 463.27 L588.16 464.08 L587.82 463.03 L586.95 463.34 L586.65 464.63 L585.47 464.7 L585.7 463.39 L584.96 463.15 L584.19 464.3 L583.35 463.6 L584.08 462.39 L583.68 461.65 L582.65 462.36 L582.37 461.09 L583.4 460.29 L583.45 459.26 L582.43 459.33 L582.8 457.83 L583.85 457.65 L584.33 456.61 L583.6 456.03 L584.51 454.69 L585.31 455.19 L586.09 454.41 L585.84 453.33 L587.04 452.52 L587.38 453.57 L588.25 453.26 L588.55 451.97 L589.73 451.9 L589.5 453.21 L590.24 453.45 L591.01 452.3 L591.85 453 L591.12 454.21 L591.52 454.95 L592.55 454.24 L592.83 455.51 L591.8 456.31 L591.75 457.34 L592.77 457.27 L592.4 458.77 L591.35 458.95 L590.87 459.99 Z"/>
<line class="s" style="stroke-width:1.1" x1="588.93" y1="460.15" x2="590.93" y2="461.25"/>
<line class="s" style="stroke-width:1.1" x1="586.61" y1="462.45" x2="588.61" y2="463.55"/>
<line class="s" style="stroke-width:1.1" x1="584.01" y1="463.33" x2="586.01" y2="464.43"/>
<line class="s" style="stroke-width:1.1" x1="581.84" y1="462.58" x2="583.84" y2="463.68"/>
<line class="s" style="stroke-width:1.1" x1="580.68" y1="460.38" x2="582.68" y2="461.48"/>
<line class="s" style="stroke-width:1.1" x1="580.83" y1="457.33" x2="582.83" y2="458.43"/>
<line class="s" style="stroke-width:1.1" x1="582.27" y1="454.25" x2="584.27" y2="455.35"/>
<line class="s" style="stroke-width:1.1" x1="584.59" y1="451.95" x2="586.59" y2="453.05"/>
<line class="s" style="stroke-width:1.1" x1="587.19" y1="451.07" x2="589.19" y2="452.17"/>
<line class="s" style="stroke-width:1.1" x1="589.36" y1="451.82" x2="591.36" y2="452.92"/>
<line class="s" style="stroke-width:1.1" x1="590.52" y1="454.02" x2="592.52" y2="455.12"/>
<line class="s" style="stroke-width:1.1" x1="590.37" y1="457.07" x2="592.37" y2="458.17"/>
<ellipse class="sf" cx="588" cy="458.5" rx="1.7" ry="2.7" transform="rotate(29.6 588 458.5)" />
<line class="ld" x1="578.5" y1="468.3" x2="583.2" y2="463"/>
<ellipse class="s" cx="599.3" cy="465.6" rx="1.6" ry="2.5" transform="rotate(29.6 599.3 465.6)" style="stroke-width:1.2"/>
<line class="ld" x1="593.4" y1="473.7" x2="597.6" y2="468.4"/>
<ellipse class="sg" cx="610.8" cy="471.1" rx="3.7" ry="5.3" transform="rotate(20 610.8 471.1)" /><ellipse class="sf" cx="611" cy="471.2" rx="1.55" ry="2.23" transform="rotate(20 611 471.2)" />
<line class="ld" x1="605" y1="482.1" x2="608.2" y2="476.4"/>
<ellipse class="sg" cx="510.3" cy="492.3" rx="3.7" ry="5.3" transform="rotate(20 510.3 492.3)" /><ellipse class="sf" cx="510.5" cy="492.4" rx="1.55" ry="2.23" transform="rotate(20 510.5 492.4)" />
<line class="ld" x1="515.9" y1="482.4" x2="512.4" y2="488"/>
<path class="sd" d="M539.96 508.62 L539.35 509.64 L538.29 509.19 L537.77 509.98 L538.56 510.84 L537.88 511.79 L536.93 511.13 L536.35 511.86 L536.99 512.9 L536.23 513.76 L535.43 512.91 L534.79 513.57 L535.27 514.76 L534.46 515.52 L533.8 514.49 L533.12 515.06 L533.43 516.39 L532.58 517.04 L532.08 515.85 L531.38 516.32 L531.51 517.76 L530.63 518.29 L530.31 516.96 L529.59 517.33 L529.55 518.85 L528.66 519.24 L528.51 517.79 L527.79 518.05 L527.57 519.63 L526.69 519.87 L526.72 518.34 L526.01 518.48 L525.62 520.09 L524.76 520.18 L524.97 518.6 L524.29 518.61 L523.73 520.21 L522.91 520.16 L523.3 518.55 L522.66 518.44 L521.94 520.01 L521.18 519.81 L521.73 518.2 L521.14 517.97 L520.29 519.48 L519.59 519.14 L520.3 517.55 L519.77 517.22 L518.79 518.63 L518.18 518.15 L519.03 516.63 L518.58 516.18 L517.49 517.48 L516.97 516.87 L517.95 515.43 L517.57 514.89 L516.4 516.05 L515.98 515.32 L517.07 514 L516.78 513.36 L515.54 514.36 L515.24 513.53 L516.42 512.35 L516.22 511.64 L514.93 512.45 L514.75 511.53 L516 510.51 L515.9 509.74 L514.59 510.35 L514.52 509.36 L515.82 508.53 L515.82 507.7 L514.52 508.11 L514.57 507.06 L515.89 506.43 L515.98 505.56 L514.71 505.76 L514.89 504.68 L516.2 504.25 L516.39 503.37 L515.17 503.34 L515.47 502.25 L516.75 502.04 L517.03 501.16 L515.89 500.91 L516.3 499.82 L517.53 499.84 L517.9 498.97 L516.86 498.51 L517.36 497.45 L518.52 497.68 L518.97 496.84 L518.04 496.18 L518.65 495.16 L519.71 495.61 L520.23 494.82 L519.44 493.96 L520.12 493.01 L521.07 493.67 L521.65 492.94 L521.01 491.9 L521.77 491.04 L522.57 491.89 L523.21 491.23 L522.73 490.04 L523.54 489.28 L524.2 490.31 L524.88 489.74 L524.57 488.41 L525.42 487.76 L525.92 488.95 L526.62 488.48 L526.49 487.04 L527.37 486.51 L527.69 487.84 L528.41 487.47 L528.45 485.95 L529.34 485.56 L529.49 487.01 L530.21 486.75 L530.43 485.17 L531.31 484.93 L531.28 486.46 L531.99 486.32 L532.38 484.71 L533.24 484.62 L533.03 486.2 L533.71 486.19 L534.27 484.59 L535.09 484.64 L534.7 486.25 L535.34 486.36 L536.06 484.79 L536.82 484.99 L536.27 486.6 L536.86 486.83 L537.71 485.32 L538.41 485.66 L537.7 487.25 L538.23 487.58 L539.21 486.17 L539.82 486.65 L538.97 488.17 L539.42 488.62 L540.51 487.32 L541.03 487.93 L540.05 489.37 L540.43 489.91 L541.6 488.75 L542.02 489.48 L540.93 490.8 L541.22 491.44 L542.46 490.44 L542.76 491.27 L541.58 492.45 L541.78 493.16 L543.07 492.35 L543.25 493.27 L542 494.29 L542.1 495.06 L543.41 494.45 L543.48 495.44 L542.18 496.27 L542.18 497.1 L543.48 496.69 L543.43 497.74 L542.11 498.37 L542.02 499.24 L543.29 499.04 L543.11 500.12 L541.8 500.55 L541.61 501.43 L542.83 501.46 L542.53 502.55 L541.25 502.76 L540.97 503.64 L542.11 503.89 L541.7 504.98 L540.47 504.96 L540.1 505.83 L541.14 506.29 L540.64 507.35 L539.48 507.12 L539.03 507.96 Z"/>
<path class="sf" d="M541.76 509.62 L541.15 510.64 L540.09 510.19 L539.57 510.98 L540.36 511.84 L539.68 512.79 L538.73 512.13 L538.15 512.86 L538.79 513.9 L538.03 514.76 L537.23 513.91 L536.59 514.57 L537.07 515.76 L536.26 516.52 L535.6 515.49 L534.92 516.06 L535.23 517.39 L534.38 518.04 L533.88 516.85 L533.18 517.32 L533.31 518.76 L532.43 519.29 L532.11 517.96 L531.39 518.33 L531.35 519.85 L530.46 520.24 L530.31 518.79 L529.59 519.05 L529.37 520.63 L528.49 520.87 L528.52 519.34 L527.81 519.48 L527.42 521.09 L526.56 521.18 L526.77 519.6 L526.09 519.61 L525.53 521.21 L524.71 521.16 L525.1 519.55 L524.46 519.44 L523.74 521.01 L522.98 520.81 L523.53 519.2 L522.94 518.97 L522.09 520.48 L521.39 520.14 L522.1 518.55 L521.57 518.22 L520.59 519.63 L519.98 519.15 L520.83 517.63 L520.38 517.18 L519.29 518.48 L518.77 517.87 L519.75 516.43 L519.37 515.89 L518.2 517.05 L517.78 516.32 L518.87 515 L518.58 514.36 L517.34 515.36 L517.04 514.53 L518.22 513.35 L518.02 512.64 L516.73 513.45 L516.55 512.53 L517.8 511.51 L517.7 510.74 L516.39 511.35 L516.32 510.36 L517.62 509.53 L517.62 508.7 L516.32 509.11 L516.37 508.06 L517.69 507.43 L517.78 506.56 L516.51 506.76 L516.69 505.68 L518 505.25 L518.19 504.37 L516.97 504.34 L517.27 503.25 L518.55 503.04 L518.83 502.16 L517.69 501.91 L518.1 500.82 L519.33 500.84 L519.7 499.97 L518.66 499.51 L519.16 498.45 L520.32 498.68 L520.77 497.84 L519.84 497.18 L520.45 496.16 L521.51 496.61 L522.03 495.82 L521.24 494.96 L521.92 494.01 L522.87 494.67 L523.45 493.94 L522.81 492.9 L523.57 492.04 L524.37 492.89 L525.01 492.23 L524.53 491.04 L525.34 490.28 L526 491.31 L526.68 490.74 L526.37 489.41 L527.22 488.76 L527.72 489.95 L528.42 489.48 L528.29 488.04 L529.17 487.51 L529.49 488.84 L530.21 488.47 L530.25 486.95 L531.14 486.56 L531.29 488.01 L532.01 487.75 L532.23 486.17 L533.11 485.93 L533.08 487.46 L533.79 487.32 L534.18 485.71 L535.04 485.62 L534.83 487.2 L535.51 487.19 L536.07 485.59 L536.89 485.64 L536.5 487.25 L537.14 487.36 L537.86 485.79 L538.62 485.99 L538.07 487.6 L538.66 487.83 L539.51 486.32 L540.21 486.66 L539.5 488.25 L540.03 488.58 L541.01 487.17 L541.62 487.65 L540.77 489.17 L541.22 489.62 L542.31 488.32 L542.83 488.93 L541.85 490.37 L542.23 490.91 L543.4 489.75 L543.82 490.48 L542.73 491.8 L543.02 492.44 L544.26 491.44 L544.56 492.27 L543.38 493.45 L543.58 494.16 L544.87 493.35 L545.05 494.27 L543.8 495.29 L543.9 496.06 L545.21 495.45 L545.28 496.44 L543.98 497.27 L543.98 498.1 L545.28 497.69 L545.23 498.74 L543.91 499.37 L543.82 500.24 L545.09 500.04 L544.91 501.12 L543.6 501.55 L543.41 502.43 L544.63 502.46 L544.33 503.55 L543.05 503.76 L542.77 504.64 L543.91 504.89 L543.5 505.98 L542.27 505.96 L541.9 506.83 L542.94 507.29 L542.44 508.35 L541.28 508.12 L540.83 508.96 Z"/>
<ellipse class="s" cx="530.8" cy="503.4" rx="10.8" ry="16.8" transform="rotate(29.6 530.8 503.4)" style="stroke-width:1.2"/>
<line class="s" x1="519.29" y1="518.48" x2="517.49" y2="517.48"/>
<line class="s" x1="518.2" y1="517.05" x2="516.4" y2="516.05"/>
<line class="s" x1="517.34" y1="515.36" x2="515.54" y2="514.36"/>
<line class="s" x1="516.73" y1="513.45" x2="514.93" y2="512.45"/>
<line class="s" x1="516.39" y1="511.35" x2="514.59" y2="510.35"/>
<line class="s" x1="516.32" y1="509.11" x2="514.52" y2="508.11"/>
<line class="s" x1="516.51" y1="506.76" x2="514.71" y2="505.76"/>
<line class="s" x1="516.97" y1="504.34" x2="515.17" y2="503.34"/>
<line class="s" x1="517.69" y1="501.91" x2="515.89" y2="500.91"/>
<line class="s" x1="518.66" y1="499.51" x2="516.86" y2="498.51"/>
<line class="s" x1="519.84" y1="497.18" x2="518.04" y2="496.18"/>
<line class="s" x1="521.24" y1="494.96" x2="519.44" y2="493.96"/>
<line class="s" x1="522.81" y1="492.9" x2="521.01" y2="491.9"/>
<line class="s" x1="524.53" y1="491.04" x2="522.73" y2="490.04"/>
<line class="s" x1="526.37" y1="489.41" x2="524.57" y2="488.41"/>
<line class="s" x1="528.29" y1="488.04" x2="526.49" y2="487.04"/>
<line class="s" x1="530.25" y1="486.95" x2="528.45" y2="485.95"/>
<line class="s" x1="532.23" y1="486.17" x2="530.43" y2="485.17"/>
<line class="s" x1="534.18" y1="485.71" x2="532.38" y2="484.71"/>
<line class="s" x1="536.07" y1="485.59" x2="534.27" y2="484.59"/>
<line class="s" x1="537.86" y1="485.79" x2="536.06" y2="484.79"/>
<line class="s" x1="539.51" y1="486.32" x2="537.71" y2="485.32"/>
<line class="s" x1="541.01" y1="487.17" x2="539.21" y2="486.17"/>
<path class="sf" d="M536.09 512.15 C536.09 512.81 535.1 513.16 534.58 513.6 C534.06 514.05 533.53 514.46 532.99 514.83 C532.45 515.19 531.89 515.51 531.34 515.79 C530.79 516.06 530.24 516.29 529.69 516.47 C529.14 516.64 528.59 516.77 528.06 516.85 C527.53 516.92 526.55 517.56 526.49 516.92 C526.44 516.29 527.34 513.69 527.73 513.03 C528.12 512.37 528.47 513.03 528.85 512.98 C529.23 512.93 529.62 512.83 530.01 512.71 C530.4 512.58 530.8 512.42 531.19 512.22 C531.58 512.03 531.97 511.8 532.36 511.54 C532.74 511.28 533.13 510.99 533.49 510.67 C533.86 510.35 534.13 509.38 534.57 509.63 C535 509.88 536.09 511.48 536.09 512.15 Z" />
<path class="sf" d="M523.3 515.92 C522.76 516.37 522.53 515.36 522.19 515.01 C521.85 514.66 521.53 514.26 521.26 513.83 C520.99 513.39 520.75 512.92 520.56 512.41 C520.36 511.9 520.2 511.35 520.09 510.78 C519.97 510.21 519.9 509.61 519.86 508.99 C519.83 508.37 519.36 507.57 519.89 507.07 C520.41 506.57 522.5 505.96 523.03 506.01 C523.55 506.07 522.98 506.94 523.01 507.38 C523.03 507.82 523.09 508.25 523.17 508.66 C523.25 509.07 523.37 509.46 523.5 509.82 C523.64 510.18 523.81 510.52 524.01 510.83 C524.2 511.14 524.42 511.42 524.66 511.67 C524.91 511.92 525.69 511.61 525.46 512.32 C525.23 513.03 523.85 515.48 523.3 515.92 Z" />
<path class="sf" d="M520.88 502.39 C520.54 502.01 521.39 501.03 521.7 500.37 C522 499.71 522.35 499.05 522.72 498.42 C523.09 497.79 523.5 497.17 523.93 496.58 C524.35 495.99 524.81 495.42 525.29 494.9 C525.77 494.37 526.27 493.87 526.78 493.41 C527.29 492.95 527.98 491.82 528.36 492.15 C528.74 492.48 529.14 494.69 529.06 495.38 C528.99 496.07 528.3 495.96 527.94 496.28 C527.57 496.61 527.21 496.97 526.88 497.34 C526.54 497.72 526.21 498.12 525.9 498.54 C525.6 498.96 525.31 499.4 525.04 499.85 C524.78 500.3 524.53 500.77 524.31 501.24 C524.1 501.71 524.31 502.49 523.73 502.68 C523.16 502.87 521.22 502.78 520.88 502.39 Z" />
<path class="sf" d="M532.16 490.25 C532.5 489.57 533.26 489.98 533.79 489.92 C534.32 489.86 534.84 489.85 535.34 489.89 C535.84 489.94 536.33 490.03 536.79 490.18 C537.25 490.32 537.7 490.52 538.11 490.76 C538.52 491 538.9 491.3 539.25 491.63 C539.6 491.97 540.5 492.08 540.21 492.78 C539.92 493.47 538.07 495.46 537.5 495.83 C536.94 496.21 537.07 495.26 536.82 495.02 C536.57 494.78 536.3 494.57 536.01 494.4 C535.71 494.22 535.4 494.08 535.07 493.98 C534.74 493.88 534.39 493.81 534.04 493.78 C533.68 493.75 533.31 493.76 532.93 493.8 C532.55 493.84 531.9 494.63 531.77 494.04 C531.64 493.45 531.83 490.94 532.16 490.25 Z" />
<path class="sf" d="M541.56 496.28 C542.11 496.24 541.73 497.47 541.75 498.1 C541.77 498.72 541.75 499.38 541.69 500.03 C541.63 500.69 541.52 501.37 541.38 502.05 C541.23 502.72 541.05 503.41 540.83 504.09 C540.6 504.77 540.34 505.46 540.04 506.12 C539.75 506.79 539.61 507.98 539.05 508.09 C538.49 508.19 536.96 507.2 536.68 506.74 C536.4 506.28 537.17 505.81 537.38 505.34 C537.6 504.86 537.78 504.38 537.94 503.89 C538.1 503.41 538.23 502.92 538.33 502.44 C538.44 501.96 538.51 501.47 538.56 501 C538.6 500.53 538.62 500.07 538.6 499.62 C538.59 499.18 537.97 498.89 538.47 498.33 C538.96 497.77 541.02 496.32 541.56 496.28 Z" />
<ellipse class="sf" cx="530.8" cy="503.4" rx="5.4" ry="8.4" transform="rotate(29.6 530.8 503.4)" style="stroke-width:1.2"/>
<path class="s" d="M528.4 500.4 L532.4 499.0 L533.8 505.4 L529.8 507.79999999999995 Z" style="stroke-width:1.2"/>
<path class="s" d="M529.8 501.79999999999995 L532.5999999999999 501.0 M530.1999999999999 504.4 L533.0 503.59999999999997" />
<line class="ld" x1="517" y1="526.7" x2="521.2" y2="520.6"/>
<path class="sf" d="M552.75 516.17 L551.37 518.09 L550.45 517.42 L549.27 518.39 L549.32 519.84 L547.52 520.61 L547.41 519.16 L546.24 519.14 L545.46 520.64 L544.08 519.9 L544.83 518.34 L544.22 517.35 L542.98 518.19 L542.66 516.29 L543.93 515.36 L544.16 513.84 L543.03 513.64 L543.92 511.46 L545.11 511.59 L546.08 510.28 L545.6 509.12 L547.29 507.69 L547.84 508.82 L549.09 508.31 L549.48 506.74 L551.17 506.72 L550.83 508.33 L551.77 508.86 L552.85 507.62 L553.76 509.02 L552.68 510.35 L552.88 511.68 L554.14 511.34 L553.84 513.51 L552.53 513.94 L551.89 515.45 Z"/>
<path class="sf" d="M559.95 520.17 L558.57 522.09 L557.65 521.42 L556.47 522.39 L556.52 523.84 L554.72 524.61 L554.61 523.16 L553.44 523.14 L552.66 524.64 L551.28 523.9 L552.03 522.34 L551.42 521.35 L550.18 522.19 L549.86 520.29 L551.13 519.36 L551.36 517.84 L550.23 517.64 L551.12 515.46 L552.31 515.59 L553.28 514.28 L552.8 513.12 L554.49 511.69 L555.04 512.82 L556.29 512.31 L556.68 510.74 L558.37 510.72 L558.03 512.33 L558.97 512.86 L560.05 511.62 L560.96 513.02 L559.88 514.35 L560.08 515.68 L561.34 515.34 L561.04 517.51 L559.73 517.94 L559.09 519.45 Z"/>
<line class="s" x1="544.08" y1="519.9" x2="551.28" y2="523.9"/>
<line class="s" x1="544.83" y1="518.34" x2="552.03" y2="522.34"/>
<line class="s" x1="544.22" y1="517.35" x2="551.42" y2="521.35"/>
<line class="s" x1="542.98" y1="518.19" x2="550.18" y2="522.19"/>
<line class="s" x1="542.66" y1="516.29" x2="549.86" y2="520.29"/>
<line class="s" x1="543.93" y1="515.36" x2="551.13" y2="519.36"/>
<line class="s" x1="544.16" y1="513.84" x2="551.36" y2="517.84"/>
<line class="s" x1="543.03" y1="513.64" x2="550.23" y2="517.64"/>
<line class="s" x1="543.92" y1="511.46" x2="551.12" y2="515.46"/>
<line class="s" x1="545.11" y1="511.59" x2="552.31" y2="515.59"/>
<line class="s" x1="546.08" y1="510.28" x2="553.28" y2="514.28"/>
<line class="s" x1="545.6" y1="509.12" x2="552.8" y2="513.12"/>
<line class="s" x1="547.29" y1="507.69" x2="554.49" y2="511.69"/>
<line class="s" x1="547.84" y1="508.82" x2="555.04" y2="512.82"/>
<line class="s" x1="549.09" y1="508.31" x2="556.29" y2="512.31"/>
<line class="s" x1="549.48" y1="506.74" x2="556.68" y2="510.74"/>
<line class="s" x1="551.17" y1="506.72" x2="558.37" y2="510.72"/>
<line class="s" x1="550.83" y1="508.33" x2="558.03" y2="512.33"/>
<line class="s" x1="551.77" y1="508.86" x2="558.97" y2="512.86"/>
<line class="s" x1="552.85" y1="507.62" x2="560.05" y2="511.62"/>
<path class="sf" d="M559.95 520.17 L558.57 522.09 L557.65 521.42 L556.47 522.39 L556.52 523.84 L554.72 524.61 L554.61 523.16 L553.44 523.14 L552.66 524.64 L551.28 523.9 L552.03 522.34 L551.42 521.35 L550.18 522.19 L549.86 520.29 L551.13 519.36 L551.36 517.84 L550.23 517.64 L551.12 515.46 L552.31 515.59 L553.28 514.28 L552.8 513.12 L554.49 511.69 L555.04 512.82 L556.29 512.31 L556.68 510.74 L558.37 510.72 L558.03 512.33 L558.97 512.86 L560.05 511.62 L560.96 513.02 L559.88 514.35 L560.08 515.68 L561.34 515.34 L561.04 517.51 L559.73 517.94 L559.09 519.45 Z"/>
<ellipse class="s" cx="556" cy="517.9" rx="2" ry="3.2" transform="rotate(29.6 556 517.9)" />
<line class="ld" x1="545.6" y1="528.8" x2="549.9" y2="523.6"/>
<path class="sf" d="M582.41 530.53 L565.61 520.73 A1.44 2.4 -149.74 0 0 563.19 524.87 L579.99 534.67 A1.44 2.4 -149.74 0 0 582.41 530.53 Z" /><ellipse class="sf" cx="564.4" cy="522.8" rx="1.44" ry="2.4" transform="rotate(-149.74 564.4 522.8)" />
<line class="ld" x1="579.6" y1="520.6" x2="575.4" y2="526.2"/>
<ellipse class="sg" cx="591.2" cy="538.4" rx="3.7" ry="5.3" transform="rotate(20 591.2 538.4)" /><ellipse class="sf" cx="591.4" cy="538.5" rx="1.55" ry="2.23" transform="rotate(20 591.4 538.5)" />
<line class="ld" x1="584.9" y1="551.1" x2="589.1" y2="543.8"/>
<!-- 14_housing2.py -->
<path class="dd" d="M617.8 457.7 L632.9 466"/>
<line class="dd" x1="647" y1="437" x2="660.6" y2="444.6"/>
<line class="dd" x1="680.4" y1="400.9" x2="680.4" y2="423.2"/>
<line class="dd" x1="706.2" y1="428.5" x2="730.6" y2="442.6"/>
<line class="dd" x1="661.7" y1="500.6" x2="675" y2="508.2"/>
<line class="dd" x1="684" y1="512.6" x2="700" y2="521.4"/>
<line class="dd" x1="711" y1="519.6" x2="716" y2="522.4"/>
<line class="dd" x1="737" y1="537.6" x2="741" y2="539.8"/>
<line class="dd" x1="672.3" y1="500.6" x2="716.8" y2="526"/>
<line class="dd" x1="641" y1="512" x2="657" y2="521"/>
<line class="dd" x1="756.9" y1="498.6" x2="763.6" y2="502.6"/>
<path class="sg" style="fill:#f7f7f7;stroke-width:1.15" d="M622.45 496.27 L623.73 493.09 L627.55 484.82 L630.73 481 L633.91 469.55 L634.55 463.18 L639 460.64 L649.82 446.64 L652.36 444.73 L656.18 445.36 L661.27 442.18 L668.27 437.09 L672.73 437.73 L677.82 432.64 L681 430.35 L681.9 424.7 L686.3 425.4 L696.7 420.9 L704.2 423.9 L710.1 434.3 L712 448 L713.1 458.1 L718.2 457.5 L734.6 463.4 L737.5 468.6 L737.5 479 L738.3 485 L733.1 492.4 L725.7 492.4 L713.8 496.1 L701.1 486.5 L700.6 481 L687 484.7 L676.5 491.1 L662.55 492.46 L661.91 501.37 L656.18 507.09 L647.27 509 L642.18 511.55 L634.55 512.18 L630.09 507.73 L627.55 502.64 L623.09 500.09 Z"/>
<path class="s" style="stroke-width:1.1;fill:#e9e9e9" d="M628.82 494.36 L632 486.09 L635.18 482.27 L638.36 470.82 L639 465.73 L642.18 463.18 L652.36 449.82 L656.18 448.55 L660.64 446 L662.55 454.27 L666.36 465.73 L670.82 474.64 L670.82 484.82 L662.55 491.82 L660 492.46 L659.36 500.09 L654.91 504.55 L645.36 507.73 L637.09 506.46 L630.73 500.09 Z"/>
<path class="s" d="M 661.27 444.09 L 662.55 454.27 L 666.36 465.73 L 670.82 474.64 L 670.82 484.82 L 662.55 491.82" style="stroke-width:1.6"/>
<path class="tl" d="M 658.98 448.16 L 660.38 455.8 L 663.82 467 L 667.89 475.91 L 667.89 482.91" />
<ellipse class="sf" cx="627.55" cy="498.18" rx="1.4" ry="1.8" transform="rotate(20 627.55 498.18)" />
<ellipse class="sf" cx="631.36" cy="485.84" rx="1.4" ry="1.8" transform="rotate(20 631.36 485.84)" />
<ellipse class="sf" cx="639.89" cy="465.47" rx="1.4" ry="1.8" transform="rotate(20 639.89 465.47)" />
<ellipse class="sf" cx="654.91" cy="447.91" rx="1.4" ry="1.8" transform="rotate(20 654.91 447.91)" />
<ellipse class="sf" cx="670.44" cy="440.27" rx="1.4" ry="1.8" transform="rotate(20 670.44 440.27)" />
<ellipse class="sf" cx="678.84" cy="434.55" rx="1.4" ry="1.8" transform="rotate(20 678.84 434.55)" />
<ellipse class="sf" cx="632" cy="509.64" rx="1.4" ry="1.8" transform="rotate(20 632 509.64)" />
<ellipse class="sf" cx="642.82" cy="509.64" rx="1.4" ry="1.8" transform="rotate(20 642.82 509.64)" />
<ellipse class="sf" cx="656.82" cy="505.18" rx="1.4" ry="1.8" transform="rotate(20 656.82 505.18)" />
<ellipse class="sf" cx="661.27" cy="494.36" rx="1.4" ry="1.8" transform="rotate(20 661.27 494.36)" />
<path class="s" d="M 630.73 502.89 L 643.46 488.64 L 645.36 483.8 L 653.64 478.2 M 635.82 504.55 L 648.55 491.82 M 628.82 494.36 L 640.91 500.09 M 631.36 485.84 L 640.91 491.44 L 640.27 468.91 M 640.91 491.44 L 643.46 488.64" />
<path class="tl" d="M 637.09 502.89 L 656.18 500.09 L 659.36 496.27 M 645.36 483.8 L 642.82 475.91 L 647.27 470.82 M 653.64 478.2 L 656.18 467 L 653.64 456.82 M 647.27 470.82 L 654.91 463.18 M 651.09 454.27 L 656.18 467" />
<path class="tl" style="fill:#dcdcdc" d="M 637.09 502.64 L 656.18 499.84 L 656.18 502.64 L 645.36 506.46 L 638.36 505.18 Z" />
<path class="tl" style="fill:#d8d8d8" d="M 631.36 485.46 L 640.27 490.55 L 640.27 493.09 L 631.36 488 Z" />
<path class="s" d="M 656.82 479.73 C 658.09 481.64 660.64 481 661.27 479.09 C 661.27 477.18 659.36 476.55 658.47 477.44" style="stroke-width:1.3"/>
<path class="sd" style="fill:#bbb" d="M 639.64 463.82 L 649.18 460.64 L 649.18 465.73 L 639.64 468.91 Z" />
<path class="s" d="M 639.64 465.47 L 649.18 462.29 M 639.64 467.26 L 649.18 464.07 M 642.82 462.8 L 642.82 467.89 M 646 461.78 L 646 466.87" />
<ellipse class="sf" cx="647.91" cy="491.18" rx="4.5" ry="5.8" transform="rotate(20 647.91 491.18)" style="stroke-width:1.3"/>
<ellipse class="t" cx="648.51" cy="491.48" rx="3.4" ry="4.6" transform="rotate(20 648.51 491.48)" />
<path class="t" d="M668 440 L676 433 L684 427 L694 423.6 L703 426" />
<path class="tl" d="M687 429.6 C690 428 700 427 704 428.6" />
<path class="tl" d="M684 445 C690 452 695 462 697 472" />
<path class="s" d="M 704.48 425.22 L 707.49 439.04 L 711.09 457.08 M 705.68 428.22 L 710.49 433.03 L 711.7 455.88 M 706.29 429.43 L 709.29 440.25" />
<path class="s" d="M670.8 474.6 L677.4 473.7 L701.2 480.4 M670.8 484.8 L678.9 484.8 L700.6 476" />
<path class="s" d="M662.6 492.3 L678 485" />
<path class="s" d="M676.8 434.6 L677.4 441.6 C679 444 683.6 443.6 684.8 441 L684.8 434.6" />
<ellipse class="sd" cx="680.8" cy="434.6" rx="4" ry="2.3" style="stroke-width:1.2"/>
<ellipse class="k" cx="680.8" cy="434.9" rx="2.2" ry="1.2" />
<ellipse class="s" cx="680" cy="488.4" rx="2.2" ry="1.5" />
<ellipse class="s" cx="688" cy="486" rx="2" ry="1.4" />
<ellipse class="s" cx="669" cy="494.6" rx="2.2" ry="1.5" />
<path class="sg" d="M 700.27 467.9 L 702.08 462.49 L 708.09 457.68 L 718.91 457.68 L 727.32 461.29 L 735.74 464.29 L 737.54 467.9 L 737.54 477.52 L 738.14 483.53 L 733.33 490.74 L 727.32 491.94 L 714.1 494.95 L 700.88 484.73 L 700.27 479.92 Z" style="fill:#f2f2f2;stroke-width:1.15"/>
<path class="s" d="M 700.27 467.9 L 705.08 471.5 L 711.7 473.91 L 714.1 494.95 M 711.7 473.91 L 723.72 477.52 L 727.92 481.72 L 727.32 491.94 M 705.08 471.5 L 705.68 488.33 M 702.08 462.49 L 706.29 465.49 L 712.9 467.9 L 727.32 471.5 L 736.94 475.11 M 706.29 458.88 L 716.5 465.49 L 727.32 471.5 M 717.11 458.28 L 712.9 467.9 M 710.49 462.49 L 706.29 465.49 M 718.91 457.68 L 720.11 462.49 L 730.93 472.71 M 727.32 463.09 L 727.56 470.9 M 729.73 463.69 L 729.97 471.74 M 732.13 465.49 L 732.49 472.47 M 734.54 466.09 L 734.78 473.31 M 723.72 477.52 L 732.13 475.11 L 737.54 477.52" />
<path class="s" d="M 708.09 458.28 L 727.32 469.7" style="stroke-width:1.6"/>
<path class="tl" d="M 702.08 469.7 L 702.68 485.93 M 708.09 472.95 L 709.05 490.74 M 716.5 475.71 L 717.71 493.74 M 721.31 476.91 L 721.91 492.54" />
<path class="t" d="M 712.9 467.9 L 713.5 473.91 M 716.5 465.49 L 717.11 469.7" />
<ellipse class="sf" cx="733" cy="484.7" rx="4.7" ry="6.1" transform="rotate(10 733 484.7)" style="stroke-width:1.4"/>
<ellipse class="s" cx="733.4" cy="484.9" rx="3.3" ry="4.6" transform="rotate(10 733.4 484.9)" />
<path class="sf" d="M677.6 396.4 L678 400.2 C679 401.6 682 401.6 683 400.2 L683.2 396.4" />
<ellipse class="sf" cx="680.4" cy="395.4" rx="4.2" ry="2.5" style="stroke-width:1.2"/>
<ellipse class="sd" cx="680.4" cy="395.2" rx="2.4" ry="1.2" />
<line class="ld" x1="685" y1="394.5" x2="690" y2="394.5"/>
<line class="ld" x1="708.4" y1="419.2" x2="704.2" y2="423.6"/>
<path class="sf" d="M730.77 445.14 L738.77 449.54 A0.65 1.3 28.81 0 0 740.03 447.26 L732.03 442.86 A0.65 1.3 28.81 0 0 730.77 445.14 Z" />
<path class="sg" d="M738.2 450.39 L740.4 451.59 A1.75 2.5 28.61 0 0 742.8 447.21 L740.6 446.01 A1.75 2.5 28.61 0 0 738.2 450.39 Z" /><ellipse class="sg" cx="741.6" cy="449.4" rx="1.75" ry="2.5" transform="rotate(28.61 741.6 449.4)" />
<line class="ld" x1="745.5" y1="441.4" x2="742.3" y2="446.5"/>
<path class="sf" d="M657.96 519.93 L664.96 523.93 A0.65 1.3 29.74 0 0 666.24 521.67 L659.24 517.67 A0.65 1.3 29.74 0 0 657.96 519.93 Z" />
<path class="sg" d="M664.4 524.99 L666.6 526.19 A1.75 2.5 28.61 0 0 669 521.81 L666.8 520.61 A1.75 2.5 28.61 0 0 664.4 524.99 Z" /><ellipse class="sg" cx="667.8" cy="524" rx="1.75" ry="2.5" transform="rotate(28.61 667.8 524)" />
<line class="ld" x1="661" y1="529.6" x2="664.6" y2="526"/>
<ellipse class="sd" cx="679" cy="510.2" rx="4.4" ry="5.4" transform="rotate(20 679 510.2)" />
<ellipse class="sf" cx="680" cy="510.8" rx="4.4" ry="5.4" transform="rotate(20 680 510.8)" style="stroke-width:1.2"/>
<ellipse class="sd" cx="680.2" cy="510.9" rx="2.9" ry="3.7" transform="rotate(20 680.2 510.9)" style="stroke-width:1.3"/>
<ellipse class="sf" cx="680.4" cy="511" rx="1.2" ry="1.8" transform="rotate(20 680.4 511)" />
<line class="ld" x1="678.7" y1="522.6" x2="679.2" y2="516.6"/>
<path class="sf" d="M701.1 515.4 L709.3 512.5 L710.8 516.2 L702.6 519.9 Z"/>
<path class="s" d="M701.1 515.4 L701.1 518.2 L702.6 519.9" />
<line class="ld" x1="714.5" y1="507" x2="709.6" y2="512.6"/>
<path class="sf" d="M 739.46 487.2 C 740.1 483.38 745.19 481.15 750.92 481.15 L 755.7 482.1 L 756.02 498.03 L 742.96 505.03 C 740.73 505.8 738.69 503.76 739.46 501.85 L 742.13 500.7 L 742.01 489.75 Z" style="stroke-width:1.15"/>
<path class="s" d="M 742.01 489.75 L 755.51 483.89 M 742.32 490.25 L 742.52 504.71 M 739.46 501.85 L 742.13 500.7" />
<path class="t" d="M 744.55 485.92 C 745.83 484.33 749.01 483.69 751.56 484.14 M 744.55 488.15 L 754.11 484.14" />
<ellipse class="sf" cx="748.69" cy="494.52" rx="3.4" ry="4.8" transform="rotate(15 748.69 494.52)" style="stroke-width:1.2"/>
<path class="s" d="M 746.46 495.48 L 750.92 495.16 M 748.06 493.57 L 750.61 496.11" />
<ellipse class="k" cx="746.34" cy="485.29" rx="1.6" ry="0.9" transform="rotate(-20 746.34 485.29)" />
<line class="ld" x1="759.1" y1="476.4" x2="754.6" y2="482"/>
<ellipse class="sg" cx="725.2" cy="536.6" rx="8.6" ry="14.2" transform="rotate(21.6 725.2 536.6)" />
<ellipse class="sf" cx="726" cy="537" rx="8.6" ry="14.2" transform="rotate(21.6 726 537)" />
<ellipse class="sf" cx="727.6" cy="538.8" rx="2.9" ry="4.2" transform="rotate(21.6 727.6 538.8)" />
<ellipse class="k" cx="727.8" cy="539" rx="1.7" ry="2.6" transform="rotate(21.6 727.8 539)" />
<path class="t" d="M727 528 L733 532" />
<line class="ld" x1="734.6" y1="519.6" x2="732.3" y2="525.1"/>
<path class="sf" d="M740.9 539.5 L750.6 535.5 L751.8 541.1 L742.6 545.2 Z"/>
<path class="s" d="M740.9 539.5 L740.9 543 L742.6 545.2" />
<line class="ld" x1="755.2" y1="530.6" x2="749.6" y2="536"/>
<path class="sf" d="M754.1 547.5 L762.6 543.4 L763.3 547.5 L754.7 551.6 Z"/>
<line class="ld" x1="769" y1="538.6" x2="762.2" y2="544"/>
<path class="dd" d="M673.3 578.6 L710.2 557.4 L757.6 584.2 L790.4 565.2 L763.6 550"/>
<path class="sf" d="M854.73 550.48 L769.03 501.78 A1.85 3.7 -150.39 0 0 765.37 508.22 L851.07 556.92 A1.85 3.7 -150.39 0 0 854.73 550.48 Z" /><ellipse class="sf" cx="852.9" cy="553.7" rx="1.85" ry="3.7" transform="rotate(-150.39 852.9 553.7)" />
<ellipse class="s" cx="853.1" cy="553.8" rx="1.1" ry="2.2" transform="rotate(29.6 853.1 553.8)" />
<path class="s" d="M821.9 541.6 L848.6 556.8 M823 540 L849.6 555.2" />
<line class="t" x1="769.78" y1="502.27" x2="766.22" y2="508.53"/>
<line class="t" x1="770.91" y1="502.91" x2="767.35" y2="509.17"/>
<line class="t" x1="772.04" y1="503.55" x2="768.48" y2="509.81"/>
<line class="t" x1="773.17" y1="504.2" x2="769.61" y2="510.46"/>
<line class="t" x1="774.3" y1="504.84" x2="770.74" y2="511.1"/>
<line class="ld" x1="801.2" y1="539.5" x2="809" y2="535"/>
<path class="sg" d="M872.54 556.82 L867.74 554.12 A3.84 6.4 -150.64 0 0 861.46 565.28 L866.26 567.98 A3.84 6.4 -150.64 0 0 872.54 556.82 Z" /><ellipse class="sf" cx="869.4" cy="562.4" rx="3.84" ry="6.4" transform="rotate(-150.64 869.4 562.4)" />
<ellipse class="sg" cx="869.8" cy="562.6" rx="2.2" ry="3.7" transform="rotate(29.6 869.8 562.6)" />
<line class="ld" x1="871.3" y1="551.4" x2="867.6" y2="555.6"/>
<ellipse class="sg" cx="883.4" cy="572" rx="5" ry="6.5" transform="rotate(29.6 883.4 572)" />
<ellipse class="sf" cx="884.4" cy="572.5" rx="5" ry="6.5" transform="rotate(29.6 884.4 572.5)" />
<ellipse class="s" cx="884.6" cy="572.6" rx="2.9" ry="4" transform="rotate(29.6 884.6 572.6)" style="stroke-width:1.6"/>
<line class="ld" x1="889.8" y1="561.6" x2="885.8" y2="567"/>
<path class="s" d="M47.4 95.3 C44.6 93.6 43.6 90 45 86.8 C46.4 83.8 50 82.6 52.6 83.6 C55 84.8 55.2 88 54.4 90.4 C53.8 92 52.8 92.8 51.6 93.2" style="stroke-width:1.6" transform="translate(847.8,490.6)"/>
<circle class="k" cx="895.3" cy="586.1" r="0.9" />
<circle class="k" cx="899.1" cy="584.2" r="0.9" />
<line class="ld" x1="906.5" y1="570.8" x2="901.4" y2="576.8"/>
<line class="dd" x1="857.6" y1="556.7" x2="860.4" y2="558.4"/>
<line class="dd" x1="873.7" y1="565.6" x2="879.4" y2="568.8"/>
<line class="dd" x1="889.3" y1="574.6" x2="893.2" y2="576.9"/>
<!-- 15_bottom.py -->
<line class="dl" x1="688" y1="597" x2="786" y2="653"/>
<line class="dl" x1="703" y1="585" x2="793" y2="640"/>
<line class="dl" x1="706" y1="596" x2="742" y2="617"/>
<line class="dl" x1="748" y1="622" x2="796" y2="650"/>
<line class="dl" x1="817" y1="661" x2="836" y2="672"/>
<line class="dl" x1="842" y1="676" x2="849" y2="681"/>
<path class="sf" d="M676.6 591.6 L696 580.6 C699.6 578.8 703.6 580 703.6 583 C703.6 585 702 586.6 699.6 588 L682.6 597.6 C679 599.6 675 598.6 674.8 596 C674.6 594.4 675.4 592.6 676.6 591.6 Z" />
<path class="t" d="M677 593.4 L696.6 582.4 C699 581.2 701.6 581.8 701.6 583.4" />
<path class="sf" d="M688 590.4 L690.6 588.6 L696 590.2 L701.6 593.8 L701 596 L695.4 593.2 L691 594.4 Z" />
<path class="sf" d="M694.41 592.45 L700.81 596.05 A0.6 1.2 29.36 0 0 701.99 593.95 L695.59 590.35 A0.6 1.2 29.36 0 0 694.41 592.45 Z" />
<ellipse class="s" cx="680" cy="595.6" rx="2" ry="1.2" transform="rotate(-30 680 595.6)" />
<ellipse class="s" cx="699.6" cy="584" rx="1.6" ry="1" transform="rotate(-30 699.6 584)" />
<line class="ld" x1="675.1" y1="603.4" x2="679" y2="597.8"/>
<path class="sf" d="M711.98 592.14 L718.98 595.94 A0.65 1.3 28.5 0 0 720.22 593.66 L713.22 589.86 A0.65 1.3 28.5 0 0 711.98 592.14 Z" />
<path class="sf" d="M718.22 596.79 L719.82 597.69 A1.44 2.4 29.36 0 0 722.18 593.51 L720.58 592.61 A1.44 2.4 29.36 0 0 718.22 596.79 Z" /><ellipse class="sf" cx="721" cy="595.6" rx="1.44" ry="2.4" transform="rotate(29.36 721 595.6)" />
<line class="ld" x1="720.6" y1="586.6" x2="718" y2="591.4"/>
<path class="sf" d="M719.73 603.37 L725.33 606.57 A0.68 1.35 29.74 0 0 726.67 604.23 L721.07 601.03 A0.68 1.35 29.74 0 0 719.73 603.37 Z" /><ellipse class="sf" cx="726" cy="605.4" rx="0.68" ry="1.35" transform="rotate(29.74 726 605.4)" />
<path class="sf" d="M712.73 607.77 L718.33 610.97 A0.68 1.35 29.74 0 0 719.67 608.63 L714.07 605.43 A0.68 1.35 29.74 0 0 712.73 607.77 Z" /><ellipse class="sf" cx="719" cy="609.8" rx="0.68" ry="1.35" transform="rotate(29.74 719 609.8)" />
<line class="ld" x1="729.7" y1="598.8" x2="725.8" y2="602.6"/>
<path class="sd" d="M741.45 621.51 L745.85 623.91 A1.32 2.4 28.61 0 0 748.15 619.69 L743.75 617.29 A1.32 2.4 28.61 0 0 741.45 621.51 Z" /><ellipse class="sd" cx="747" cy="621.8" rx="1.32" ry="2.4" transform="rotate(28.61 747 621.8)" />
<path class="s" d="M743.99 617.41 L741.61 621.59" style="stroke-width:1.1;stroke:#111"/>
<path class="s" d="M745.2 618.1 L742.83 622.28" style="stroke-width:1.1;stroke:#111"/>
<path class="s" d="M746.42 618.8 L744.05 622.97" style="stroke-width:1.1;stroke:#111"/>
<path class="s" d="M747.64 619.49 L745.27 623.66" style="stroke-width:1.1;stroke:#111"/>
<line class="ld" x1="750.5" y1="613.6" x2="746.8" y2="618"/>
<path class="sg" d="M737.69 624.05 L732.09 620.85 A1.87 3.4 -150.26 0 0 728.71 626.75 L734.31 629.95 A1.87 3.4 -150.26 0 0 737.69 624.05 Z" /><ellipse class="sf" cx="736" cy="627" rx="1.87" ry="3.4" transform="rotate(-150.26 736 627)" />
<line class="ld" x1="725.8" y1="634.6" x2="730.6" y2="629.2"/>
<path class="sd" d="M748.76 635.33 L762.96 643.33 A0.65 1.3 29.4 0 0 764.24 641.07 L750.04 633.07 A0.65 1.3 29.4 0 0 748.76 635.33 Z" />
<path class="sf" d="M763 640.2 L766 639.6 L768.8 642 L768.4 645.4 L765.6 647 L763 645.6 L762 643 Z"/>
<path class="t" d="M766 639.6 L765.4 643 L762 643 M765.4 643 L768.4 645.4" />
<line class="ld" x1="753.1" y1="649" x2="757" y2="641.6"/>
<ellipse class="s" cx="778.4" cy="657.6" rx="2.4" ry="3.2" transform="rotate(29.6 778.4 657.6)" style="stroke-width:1.4"/>
<path class="sd" d="M782.47 658.66 L786.67 656.66 A1.25 2.5 -25.46 0 0 784.53 652.14 L780.33 654.14 A1.25 2.5 -25.46 0 0 782.47 658.66 Z" /><ellipse class="sd" cx="781.4" cy="656.4" rx="1.25" ry="2.5" transform="rotate(-25.46 781.4 656.4)" /><ellipse class="sd" cx="785.6" cy="654.4" rx="1.25" ry="2.5" transform="rotate(-25.46 785.6 654.4)" />
<path class="s" d="M786.6 652.4 L789 650.4" style="stroke-width:1.3"/>
<circle class="k" cx="789.2" cy="650" r="0.7" />
<line class="ld" x1="783" y1="667" x2="783" y2="660.2"/>
<path class="sf" d="M793.4 638.3 C794.4 636.6 796.4 636.2 797.3 636.7 L814.2 652.3 C814.8 654 814.2 656 812.9 657 L805.1 664.3 L799.9 660.9 L792.1 644 C791.8 641.6 792.4 639.6 793.4 638.3 Z" />
<path class="t" d="M794.6 639.4 L811 654.6 L805.1 664.3 M811 654.6 L814 653" />
<ellipse class="s" cx="798.4" cy="646" rx="1.5" ry="2" transform="rotate(20 798.4 646)" />
<ellipse class="s" cx="809.6" cy="657" rx="1.3" ry="0.8" transform="rotate(-40 809.6 657)" />
<line class="ld" x1="801.2" y1="631.8" x2="798.6" y2="637.4"/>
<ellipse class="sg" cx="821.5" cy="664.3" rx="3.2" ry="4.3" transform="rotate(20 821.5 664.3)" />
<ellipse class="sf" cx="821.6" cy="664.4" rx="1.1" ry="1.6" transform="rotate(20 821.6 664.4)" />
<line class="ld" x1="827.2" y1="656" x2="823.4" y2="661.6"/>
<ellipse class="sd" cx="838.9" cy="673.9" rx="3.4" ry="3.6" style="stroke-width:1.2"/>
<ellipse class="sf" cx="839.3" cy="674" rx="1.5" ry="1.7" />
<path class="t" d="M836.6 671.4 L840 672.6 L841.8 675.6 M840 672.6 L839 676.6" />
<line class="ld" x1="845.4" y1="666.4" x2="840.8" y2="671.2"/>
<path class="s" d="M837.4 687 C836.4 686.4 836.8 685.4 838 685.4 L847.6 681.6 M838 687.2 L847.4 682.6" style="stroke-width:1.1"/>
<line class="ld" x1="829.8" y1="688.2" x2="836.4" y2="687.2"/>
<!-- 16_topright.py -->
<rect class="bx" x="559.6" y="33.2" width="92.7" height="134.7" />
<line class="ld" x1="652.3" y1="103.9" x2="665" y2="103.9"/>
<line class="dl" x1="601.2" y1="45" x2="601.2" y2="49"/>
<line class="dl" x1="601.2" y1="59" x2="601.2" y2="64"/>
<line class="dl" x1="601.2" y1="96" x2="601.2" y2="106"/>
<line class="dl" x1="601.2" y1="131" x2="601.2" y2="147"/>
<path class="sd" d="M597.0 39.6 L597.4000000000001 43 C599.2 45 603.2 45 605.0 43 L605.4000000000001 39.6" />
<ellipse class="sg" cx="601.2" cy="39.4" rx="4.3" ry="2.6" style="stroke-width:1.2"/>
<ellipse class="sd" cx="601.2" cy="39.2" rx="2.4" ry="1.3" />
<path class="sf" d="M609.67 54.87 C609.9 55.28 609.41 56.11 608.79 56.35 C608.17 56.59 606.66 56.2 605.94 56.31 C605.22 56.43 604.78 56.66 604.48 57.05 C604.18 57.45 604.64 58.37 604.14 58.7 C603.64 59.02 602.17 59.19 601.5 59 C600.83 58.8 600.66 57.85 600.12 57.55 C599.59 57.24 599.04 57.13 598.29 57.18 C597.55 57.23 596.4 57.92 595.67 57.83 C594.94 57.74 593.96 57.08 593.91 56.65 C593.86 56.22 595.2 55.65 595.38 55.23 C595.57 54.81 595.45 54.48 595.01 54.13 C594.57 53.78 592.96 53.54 592.73 53.13 C592.5 52.72 592.99 51.89 593.61 51.65 C594.23 51.41 595.74 51.8 596.46 51.69 C597.18 51.57 597.62 51.34 597.92 50.95 C598.22 50.55 597.76 49.63 598.26 49.3 C598.76 48.98 600.23 48.81 600.9 49 C601.57 49.2 601.74 50.15 602.28 50.45 C602.81 50.76 603.36 50.87 604.11 50.82 C604.85 50.77 606 50.08 606.73 50.17 C607.46 50.26 608.44 50.92 608.49 51.35 C608.54 51.78 607.2 52.35 607.02 52.77 C606.83 53.19 606.95 53.52 607.39 53.87 C607.83 54.22 609.44 54.46 609.67 54.87 Z" />
<ellipse class="s" cx="601.2" cy="54" rx="2.4" ry="1.3" />
<ellipse class="sf" cx="601.2" cy="80.4" rx="25.2" ry="14.4" style="stroke-width:1.2"/>
<ellipse class="sf" cx="601.2" cy="78.6" rx="24.4" ry="13.8" />
<ellipse class="sf" cx="601.2" cy="75.8" rx="25.2" ry="14.4" style="stroke-width:1.2"/>
<ellipse class="s" cx="601.2" cy="76.6" rx="22.6" ry="12.4" />
<ellipse class="tl" cx="601.2" cy="78.54" rx="19" ry="10.26" />
<ellipse class="tl" cx="601.2" cy="79.08" rx="16" ry="8.64" />
<ellipse class="tl" cx="601.2" cy="79.55" rx="13.4" ry="7.24" />
<ellipse class="tl" cx="601.2" cy="80.02" rx="10.8" ry="5.83" />
<ellipse class="s" cx="601.2" cy="82.4" rx="7.4" ry="3.6" />
<path class="s" d="M606.4 82.6 L606.03 83.56 L603.72 83.52 L602.87 83.92 L602.81 85.07 L600.87 85.19 L600.24 84.08 L599.21 83.8 L596.99 84.13 L596.16 83.25 L598.08 82.6 L598.3 82.03 L596.99 81.07 L598.41 80.4 L600.24 81.12 L601.4 81.04 L602.81 80.13 L604.51 80.6 L603.72 81.68 L604.22 82.21 Z"/>
<circle class="k" cx="610.03" cy="83.17" r="0.5" />
<circle class="k" cx="600.87" cy="86.2" r="0.5" />
<circle class="k" cx="592.16" cy="82.87" r="0.5" />
<circle class="k" cx="595.94" cy="77.79" r="0.5" />
<circle class="k" cx="606.99" cy="77.98" r="0.5" />
<path class="sf" d="M584.1 110.45 C585 104.6 589.5 99.2 594 97.4 L595.35 97.85 C594.45 101.9 594.9 105.5 595.8 108.2 " />
<path class="sf" d="M585.45 112.25 L574.2 103.7 C570.6 105.5 569.25 111.8 571.5 116.75 L583.2 118.28 " />
<path class="sf" d="M582.75 118.64 L564.75 115.94 C562.05 118.1 563.4 123.05 568.8 128.45 L585.45 125.75 " />
<path class="sf" d="M568.8 128.9 C567.9 131.6 572.4 137 581.4 138.35 C587.7 137 593.1 133.4 595.08 129.8 " />
<path class="sf" d="M585.45 138.8 C587.7 142.41 594 144.39 598.5 143.31 C602.1 140.6 604.8 136.1 605.43 132.5 " />
<path class="sf" d="M607.32 129.8 L608.41 141.05 L615.61 142.41 C619.39 141.05 618.31 135.2 614.26 129.08 " />
<path class="sf" d="M620.11 123.5 C624.61 126.2 630.01 129.8 632.71 133.22 L630.01 134.84 C626.41 130.88 621.01 127.28 617.41 126.2 " />
<path class="sf" d="M621.01 116.3 C628.21 116.75 636.31 119 639.91 121.25 L638.56 123.05 C631.81 120.8 626.41 119.9 621.01 119.45 " />
<path class="sf" d="M615.61 109.55 C622.81 107.75 630.01 107.3 634.96 108.2 L634.51 110 C628.21 110 622.81 110.9 618.31 112.34 " />
<path class="sf" d="M602.1 106.85 C606.6 102.8 612.01 99.65 617.41 98.75 L617.86 100.55 C613.81 102.35 610.21 105.5 608.41 108.38 " />
<ellipse class="sf" cx="601.7" cy="118.6" rx="18.7" ry="11" style="stroke-width:1.2"/>
<ellipse class="t" cx="601.7" cy="119.4" rx="17" ry="9.6" />
<ellipse class="sf" cx="601.7" cy="120.4" rx="10.6" ry="6" />
<path class="s" d="M609.15 123 C608.97 123.44 606.6 124.73 605.8 124.82 C605.01 124.91 603.93 123.82 603.17 123.66 C602.41 123.5 600.86 123.49 600.09 123.64 C599.32 123.78 598.19 124.86 597.4 124.76 C596.61 124.66 594.3 123.34 594.14 122.89 C593.98 122.45 595.94 121.85 596.22 121.42 C596.5 120.99 596.52 120.13 596.26 119.7 C596 119.27 594.07 118.64 594.25 118.2 C594.43 117.76 596.8 116.47 597.6 116.38 C598.39 116.29 599.47 117.38 600.23 117.54 C600.99 117.7 602.54 117.71 603.31 117.56 C604.08 117.42 605.21 116.34 606 116.44 C606.79 116.54 609.1 117.86 609.26 118.31 C609.42 118.75 607.46 119.35 607.18 119.78 C606.9 120.21 606.88 121.07 607.14 121.5 C607.4 121.93 609.33 122.56 609.15 123 Z" />
<circle class="s" cx="600" cy="116.6" r="0.8" />
<path class="sf" d="M591.6 153 C592 149 596 147 601 147 C606.6 147 611 149.6 611.4 153.4 C611.4 156.6 608 159 604.6 159.6 L604.4 162.4 C603.6 164.6 598.6 164.6 597.8 162.4 L597.6 159.4 C594 158.6 591.4 156.4 591.6 153 Z" />
<path class="s" d="M593 151 L599.6 154.6 L601 147.4 M599.6 154.6 L609.6 151 M599.6 154.6 L597.6 159.4 M599.6 154.6 L606 158.6 M595.6 148.6 L601.6 152 M606 148.4 L603 153.2 M592 154.6 L597 157" />
<path class="t" d="M597.8 160.4 C599.6 161.6 602.6 161.6 604.4 160.4" />
<path class="ld" d="M615.3 140.3 L615.3 155.2 L622.4 155.2"/>
<line class="dd" x1="601.2" y1="168" x2="601.2" y2="176.6"/>
<line class="dd" x1="601.2" y1="188" x2="601.2" y2="192.6"/>
<line class="dd" x1="601.2" y1="204" x2="601.2" y2="210"/>
<line class="dd" x1="601.2" y1="220.6" x2="601.2" y2="225.4"/>
<line class="dd" x1="601.2" y1="229.6" x2="601.2" y2="233.4"/>
<line class="dd" x1="601.2" y1="246.6" x2="601.2" y2="252.4"/>
<path class="dd" d="M601.2 305.5 L601.2 327.2"/>
<path class="s" d="M597.2 179.4 C592.2 180.6 591.2 185 597.2 187 C603.2 188.4 609.2 186.6 609.2 183 C609.2 180 604.2 178.4 599.6 178.6" style="stroke-width:1.5"/>
<circle class="k" cx="596.8" cy="180" r="0.7" />
<circle class="k" cx="599.8" cy="179.2" r="0.7" />
<line class="ld" x1="609.6" y1="183" x2="619.2" y2="183"/>
<ellipse class="sd" cx="601.2" cy="199" rx="8" ry="5.2" />
<ellipse class="sf" cx="601.2" cy="197.6" rx="8" ry="5.2" style="stroke-width:1.2"/>
<ellipse class="sd" cx="601.2" cy="197.8" rx="5" ry="3" style="stroke-width:1.2"/>
<ellipse class="sf" cx="601.2" cy="197.8" rx="2.7" ry="1.4" />
<line class="ld" x1="609.2" y1="197.9" x2="619.2" y2="197.9"/>
<ellipse class="sg" cx="601.2" cy="216" rx="8" ry="4.9" />
<ellipse class="sf" cx="601.2" cy="215" rx="8" ry="4.9" style="stroke-width:1.2"/>
<ellipse class="sf" cx="601.2" cy="215.2" rx="5.2" ry="2.9" />
<line class="ld" x1="609.2" y1="215.7" x2="619.2" y2="215.7"/>
<ellipse class="s" cx="601.2" cy="227.5" rx="3.1" ry="1.7" style="stroke-width:1.2"/>
<line class="ld" x1="605.4" y1="227.5" x2="619.2" y2="227.5"/>
<path class="sd" d="M592.6 238.6 L592.6 241.6 A8.6 5.6 0 0 0 609.8000000000001 241.6 L609.8000000000001 238.6" />
<ellipse class="sf" cx="601.2" cy="238.6" rx="8.6" ry="5.6" style="stroke-width:1.3"/>
<ellipse class="sd" cx="601.2" cy="238.8" rx="5.6" ry="3.3" style="stroke-width:1.2"/>
<ellipse class="sf" cx="601.2" cy="238.8" rx="3" ry="1.6" />
<line class="ld" x1="609.8" y1="241.4" x2="619.2" y2="241.4"/>
<path class="sf" d="M598.5 254 L598.5 270 L597.0 271.6 L597.0 275 L598.3000000000001 277 L598.3000000000001 280 L597.0 282 L597.0 285.4 L598.5 287.4 L598.5 303.4 A2.7 1.2 0 0 0 603.9000000000001 303.4 L603.9000000000001 287.4 L605.4000000000001 285.4 L605.4000000000001 282 L604.1 280 L604.1 277 L605.4000000000001 275 L605.4000000000001 271.6 L603.9000000000001 270 L603.9000000000001 254 A2.7 1.2 0 0 0 598.5 254 Z" />
<path class="t" d="M598.5 254 A2.7 1.2 0 0 0 603.9000000000001 254" />
<path class="s" d="M598.5 262 A2.7 0.9 0 0 0 603.9000000000001 262" />
<path class="s" d="M598.5 263.6 A2.7 0.9 0 0 0 603.9000000000001 263.6" />
<path class="s" d="M598.5 265.2 A2.7 0.9 0 0 0 603.9000000000001 265.2" />
<path class="s" d="M598.5 266.8 A2.7 0.9 0 0 0 603.9000000000001 266.8" />
<path class="s" d="M598.5 268.4 A2.7 0.9 0 0 0 603.9000000000001 268.4" />
<path class="s" d="M598.5 290 A2.7 0.9 0 0 0 603.9000000000001 290" />
<path class="s" d="M598.5 291.6 A2.7 0.9 0 0 0 603.9000000000001 291.6" />
<path class="s" d="M598.5 293.2 A2.7 0.9 0 0 0 603.9000000000001 293.2" />
<path class="s" d="M598.5 294.8 A2.7 0.9 0 0 0 603.9000000000001 294.8" />
<path class="s" d="M598.5 296.4 A2.7 0.9 0 0 0 603.9000000000001 296.4" />
<path class="s" d="M598.5 298 A2.7 0.9 0 0 0 603.9000000000001 298" />
<path class="t" d="M597.0 273.4 A4.2 1.3 0 0 0 605.4000000000001 273.4 M597.0 283.8 A4.2 1.3 0 0 0 605.4000000000001 283.8" />
<line class="ld" x1="606" y1="268.8" x2="619.2" y2="268.8"/>
<path class="sf" d="M623 305 L664 285 L713.4 319.4 C714.6 320.6 714.2 322.4 713 323 L676.6 341.2 C675 341.8 673.4 341.8 672 341 Z" style="stroke-width:1.2"/>
<path class="tl" d="M630.6 308.6 L670.6 289.4 M676 336.6 L711 319" />
<path class="tl" d="M664 303 C668 308 670 316 670 324 M670 300 C675 306 676 314 680 322 M650 318 C655 320 658 322 660 326 M688 306 C690 310 696 312 700 314 M684 326 C686 330 686 332 690 333 M640 312 C644 316 646 318 650 318" />
<path class="s" d="M646 293.6 L651 291.4" style="stroke-width:1.4"/>
<line class="ld" x1="684" y1="289.4" x2="680" y2="294.4"/>
<path class="sf" d="M 750 290.6 C 759 283.6 770 275.6 779 273.4 C 783 272.4 786 275 787.6 278 C 788.4 280.4 788 282.4 786.8 284 C 780 290 766 298.4 752.4 302.8 Z" style="stroke-width:1.2"/>
<path class="sf" d="M 782 273.6 L 786 271.6 L 787.6 275.2 L 791 272.8 C 793 272 794.4 274.4 792.4 276 L 788.6 278.4 L 789.2 281.2 L 786.8 284" />
<path class="t" d="M 779.6 273.6 C 782.4 277 783.6 282 782.4 287.2" />
<path class="sf" d="M 746 290.8 C 746 289.2 750.6 289 750.8 290.6 L 751.6 303.6 C 751.2 305.4 746.4 305.6 746.2 304 Z" style="stroke-width:1.2"/>
<ellipse class="s" cx="748.4" cy="290.4" rx="2.3" ry="1" />
<path class="tl" d="M 759 288 L 770 283 M 756 298 L 760 292 M 762 295 L 776 288" />
<line class="ld" x1="763" y1="272.6" x2="768" y2="278.4"/>
<path class="k" d="M848.5 82.5 L864 73.5 L862.5 69.8 L884.8 69.5 L873.5 87.8 L871.5 84 L854.5 93.8 Z"/>
<text x="0" y="0" transform="translate(813.4,115.6) rotate(-29.3)" style="font-size:12.4px;fill:#111">FRONT</text>
<!-- 90_overlay.py -->
<line class="dd" x1="263.5" y1="213" x2="352" y2="264.6"/>
<line class="dd" x1="300" y1="211.4" x2="345.6" y2="238.8"/>
<path class="dd" d="M253.2 335.4 L253.2 214.9 L292.6 237.4"/>
<path class="dd" d="M261.6 354.5 L261.6 232.7 L266 234.6"/>
</svg>
</body></html>
